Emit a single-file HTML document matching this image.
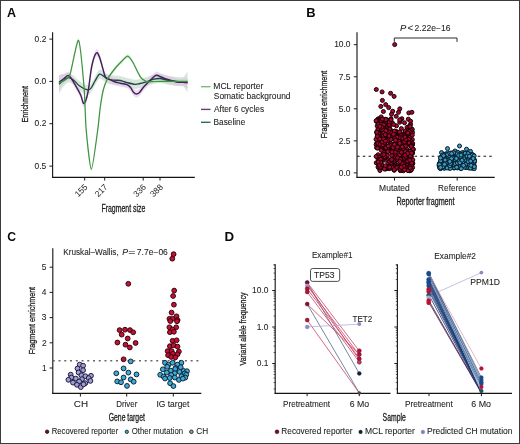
<!DOCTYPE html>
<html><head><meta charset="utf-8"><style>
html,body{margin:0;padding:0;background:#fff;}
svg{display:block;font-family:"Liberation Sans", sans-serif;filter:blur(0.25px);}
</style></head><body>
<svg width="520" height="444" viewBox="0 0 520 444">
<rect width="520" height="444" fill="#fff"/>
<text x="6.99" y="17.30" font-size="12.6" font-weight="bold" fill="#0a0a0a" textLength="9.05" lengthAdjust="spacingAndGlyphs" >A</text>
<text x="306.26" y="17.40" font-size="12.6" font-weight="bold" fill="#0a0a0a" textLength="9.35" lengthAdjust="spacingAndGlyphs" >B</text>
<text x="7.21" y="241.00" font-size="12.6" font-weight="bold" fill="#0a0a0a" textLength="8.82" lengthAdjust="spacingAndGlyphs" >C</text>
<text x="224.53" y="240.90" font-size="12.6" font-weight="bold" fill="#0a0a0a" textLength="9.63" lengthAdjust="spacingAndGlyphs" >D</text>
<line x1="52.60" y1="32.30" x2="52.60" y2="177.90" stroke="#1a1a1a" stroke-width="1.15" />
<line x1="52.05" y1="177.35" x2="194.80" y2="177.35" stroke="#141414" stroke-width="1.3" />
<line x1="49.40" y1="39.10" x2="52.60" y2="39.10" stroke="#1a1a1a" stroke-width="1.0" />
<text x="34.64" y="41.85" font-size="8.2" fill="#222222" textLength="11.68" lengthAdjust="spacingAndGlyphs" stroke="#222222" stroke-width="0.07">0.2</text>
<line x1="49.40" y1="81.40" x2="52.60" y2="81.40" stroke="#1a1a1a" stroke-width="1.0" />
<text x="34.51" y="84.15" font-size="8.2" fill="#222222" textLength="11.68" lengthAdjust="spacingAndGlyphs" stroke="#222222" stroke-width="0.07">0.0</text>
<line x1="49.40" y1="123.70" x2="52.60" y2="123.70" stroke="#1a1a1a" stroke-width="1.0" />
<text x="34.64" y="126.45" font-size="8.2" fill="#222222" textLength="11.68" lengthAdjust="spacingAndGlyphs" stroke="#222222" stroke-width="0.07">0.2</text>
<line x1="49.40" y1="166.10" x2="52.60" y2="166.10" stroke="#1a1a1a" stroke-width="1.0" />
<text x="34.55" y="168.85" font-size="8.2" fill="#222222" textLength="11.68" lengthAdjust="spacingAndGlyphs" stroke="#222222" stroke-width="0.07">0.5</text>
<line x1="84.70" y1="177.35" x2="84.70" y2="180.55" stroke="#1a1a1a" stroke-width="1.0" />
<text x="88.20" y="187.55" font-size="8.5" text-anchor="end" fill="#222222" transform="rotate(-45 88.20 187.55)">155</text>
<line x1="104.70" y1="177.35" x2="104.70" y2="180.55" stroke="#1a1a1a" stroke-width="1.0" />
<text x="108.20" y="187.55" font-size="8.5" text-anchor="end" fill="#222222" transform="rotate(-45 108.20 187.55)">217</text>
<line x1="143.20" y1="177.35" x2="143.20" y2="180.55" stroke="#1a1a1a" stroke-width="1.0" />
<text x="146.70" y="187.55" font-size="8.5" text-anchor="end" fill="#222222" transform="rotate(-45 146.70 187.55)">336</text>
<line x1="160.00" y1="177.35" x2="160.00" y2="180.55" stroke="#1a1a1a" stroke-width="1.0" />
<text x="163.50" y="187.55" font-size="8.5" text-anchor="end" fill="#222222" transform="rotate(-45 163.50 187.55)">388</text>
<text x="101.45" y="211.50" font-size="10.0" fill="#222222" textLength="43.87" lengthAdjust="spacingAndGlyphs" stroke="#1e1e1e" stroke-width="0.3">Fragment size</text>
<text x="28.20" y="122.58" font-size="9.8" fill="#222222" textLength="36.53" lengthAdjust="spacingAndGlyphs" transform="rotate(-90 28.20 122.58)" stroke="#1e1e1e" stroke-width="0.3">Enrichment</text>
<path d="M59.00,74.80 C59.67,74.65 61.42,74.20 63.00,73.90 C64.58,73.60 66.67,72.67 68.50,73.00 C70.33,73.33 72.20,74.55 74.00,75.90 C75.80,77.25 77.17,79.57 79.30,81.10 C81.43,82.63 84.88,84.65 86.80,85.10 C88.72,85.55 89.43,85.25 90.80,83.80 C92.17,82.35 93.53,78.77 95.00,76.40 C96.47,74.03 98.10,70.35 99.60,69.60 C101.10,68.85 102.58,71.07 104.00,71.90 C105.42,72.73 106.43,73.98 108.10,74.60 C109.77,75.22 111.97,75.38 114.00,75.60 C116.03,75.82 118.13,75.50 120.30,75.90 C122.47,76.30 124.53,77.37 127.00,78.00 C129.47,78.63 132.93,79.55 135.10,79.70 C137.27,79.85 138.18,79.30 140.00,78.90 C141.82,78.50 143.67,78.02 146.00,77.30 C148.33,76.58 151.67,75.17 154.00,74.60 C156.33,74.03 157.83,73.77 160.00,73.90 C162.17,74.03 164.25,74.90 167.00,75.40 C169.75,75.90 173.83,76.62 176.50,76.90 C179.17,77.18 181.50,77.55 183.00,77.10 C184.50,76.65 184.73,75.10 185.50,74.20 C186.27,73.30 187.25,72.10 187.60,71.68 L187.60,91.92 C187.25,91.50 186.27,90.34 185.50,89.40 C184.73,88.46 184.50,86.85 183.00,86.30 C181.50,85.75 179.17,86.38 176.50,86.10 C173.83,85.82 169.75,85.10 167.00,84.60 C164.25,84.10 162.17,83.23 160.00,83.10 C157.83,82.97 156.33,83.23 154.00,83.80 C151.67,84.37 148.33,85.78 146.00,86.50 C143.67,87.22 141.82,87.70 140.00,88.10 C138.18,88.50 137.27,89.05 135.10,88.90 C132.93,88.75 129.47,87.83 127.00,87.20 C124.53,86.57 122.47,85.50 120.30,85.10 C118.13,84.70 116.03,85.02 114.00,84.80 C111.97,84.58 109.77,84.42 108.10,83.80 C106.43,83.18 105.42,81.93 104.00,81.10 C102.58,80.27 101.10,78.05 99.60,78.80 C98.10,79.55 96.47,83.23 95.00,85.60 C93.53,87.97 92.17,91.55 90.80,93.00 C89.43,94.45 88.72,94.75 86.80,94.30 C84.88,93.85 81.43,91.83 79.30,90.30 C77.17,88.77 75.80,86.45 74.00,85.10 C72.20,83.75 70.33,81.83 68.50,82.20 C66.67,82.57 64.58,85.37 63.00,87.30 C61.42,89.23 59.67,92.72 59.00,93.80 Z" fill="#bccfc2" fill-opacity="0.55" stroke="none"/>
<path d="M59.00,75.20 C59.83,74.98 62.30,74.40 64.00,73.90 C65.70,73.40 67.20,70.72 69.20,72.20 C71.20,73.68 74.08,79.60 76.00,82.80 C77.92,86.00 79.37,88.53 80.70,91.40 C82.03,94.27 82.78,100.50 84.00,100.00 C85.22,99.50 86.70,94.67 88.00,88.40 C89.30,82.13 90.42,68.90 91.80,62.40 C93.18,55.90 94.97,50.73 96.30,49.40 C97.63,48.07 98.35,50.57 99.80,54.40 C101.25,58.23 103.62,68.98 105.00,72.40 C106.38,75.82 106.60,73.98 108.10,74.90 C109.60,75.82 111.97,77.12 114.00,77.90 C116.03,78.68 118.13,79.08 120.30,79.60 C122.47,80.12 125.30,80.28 127.00,81.00 C128.70,81.72 129.42,82.63 130.50,83.90 C131.58,85.17 132.50,87.52 133.50,88.60 C134.50,89.68 135.50,90.35 136.50,90.40 C137.50,90.45 138.50,89.82 139.50,88.90 C140.50,87.98 141.42,86.22 142.50,84.90 C143.58,83.58 144.58,82.50 146.00,81.00 C147.42,79.50 149.30,77.45 151.00,75.90 C152.70,74.35 154.53,72.12 156.20,71.70 C157.87,71.28 159.20,72.73 161.00,73.40 C162.80,74.07 164.42,74.87 167.00,75.70 C169.58,76.53 173.83,77.88 176.50,78.40 C179.17,78.92 181.50,78.87 183.00,78.80 C184.50,78.73 184.73,78.26 185.50,78.00 C186.27,77.74 187.25,77.38 187.60,77.26 L187.60,88.14 C187.25,87.98 186.27,87.56 185.50,87.20 C184.73,86.84 184.50,86.27 183.00,86.00 C181.50,85.73 179.17,86.12 176.50,85.60 C173.83,85.08 169.58,83.73 167.00,82.90 C164.42,82.07 162.80,81.27 161.00,80.60 C159.20,79.93 157.87,78.48 156.20,78.90 C154.53,79.32 152.70,81.55 151.00,83.10 C149.30,84.65 147.42,86.70 146.00,88.20 C144.58,89.70 143.58,90.78 142.50,92.10 C141.42,93.42 140.50,95.18 139.50,96.10 C138.50,97.02 137.50,97.65 136.50,97.60 C135.50,97.55 134.50,96.88 133.50,95.80 C132.50,94.72 131.58,92.37 130.50,91.10 C129.42,89.83 128.70,88.92 127.00,88.20 C125.30,87.48 122.47,87.32 120.30,86.80 C118.13,86.28 116.03,85.88 114.00,85.10 C111.97,84.32 109.60,83.02 108.10,82.10 C106.60,81.18 106.38,83.02 105.00,79.60 C103.62,76.18 101.25,65.43 99.80,61.60 C98.35,57.77 97.63,55.27 96.30,56.60 C94.97,57.93 93.18,63.10 91.80,69.60 C90.42,76.10 89.30,89.33 88.00,95.60 C86.70,101.87 85.22,106.70 84.00,107.20 C82.78,107.70 82.03,101.47 80.70,98.60 C79.37,95.73 77.92,93.20 76.00,90.00 C74.08,86.80 71.20,80.55 69.20,79.40 C67.20,78.25 65.70,81.43 64.00,83.10 C62.30,84.77 59.83,88.35 59.00,89.40 Z" fill="#d8bce2" fill-opacity="0.5" stroke="none"/>
<path d="M59.00,81.30 C59.83,80.88 62.18,80.15 64.00,78.80 C65.82,77.45 67.47,79.88 69.90,73.20 C72.33,66.52 76.25,36.78 78.60,38.70 C80.95,40.62 82.73,69.77 84.00,84.70 C85.27,99.63 84.97,114.50 86.20,128.30 C87.43,142.10 89.48,167.50 91.40,167.50 C93.32,167.50 96.22,138.67 97.70,128.30 C99.18,117.93 99.35,112.05 100.30,105.30 C101.25,98.55 102.25,92.38 103.40,87.80 C104.55,83.22 105.27,81.30 107.20,77.80 C109.13,74.30 112.78,69.63 115.00,66.80 C117.22,63.97 118.38,62.85 120.50,60.80 C122.62,58.75 125.62,54.50 127.70,54.50 C129.78,54.50 130.87,57.30 133.00,60.80 C135.13,64.30 138.23,72.32 140.50,75.50 C142.77,78.68 144.18,79.18 146.60,79.90 C149.02,80.62 151.10,79.83 155.00,79.80 C158.90,79.77 164.57,79.72 170.00,79.70 C175.43,79.68 184.67,79.70 187.60,79.70 L187.60,83.10 C184.67,83.10 175.43,83.08 170.00,83.10 C164.57,83.12 158.90,83.17 155.00,83.20 C151.10,83.23 149.02,84.02 146.60,83.30 C144.18,82.58 142.77,82.08 140.50,78.90 C138.23,75.72 135.13,67.70 133.00,64.20 C130.87,60.70 129.78,57.90 127.70,57.90 C125.62,57.90 122.62,62.15 120.50,64.20 C118.38,66.25 117.22,67.37 115.00,70.20 C112.78,73.03 109.13,77.70 107.20,81.20 C105.27,84.70 104.55,86.62 103.40,91.20 C102.25,95.78 101.25,101.95 100.30,108.70 C99.35,115.45 99.18,121.33 97.70,131.70 C96.22,142.07 93.32,170.90 91.40,170.90 C89.48,170.90 87.43,145.50 86.20,131.70 C84.97,117.90 85.27,103.03 84.00,88.10 C82.73,73.17 80.95,44.02 78.60,42.10 C76.25,40.18 72.33,69.92 69.90,76.60 C67.47,83.28 65.82,80.85 64.00,82.20 C62.18,83.55 59.83,84.28 59.00,84.70 Z" fill="#b4e6ac" fill-opacity="0.5" stroke="none"/>
<path d="M59.00,84.30 C59.67,83.68 61.42,81.72 63.00,80.60 C64.58,79.48 66.67,77.62 68.50,77.60 C70.33,77.58 72.20,79.15 74.00,80.50 C75.80,81.85 77.17,84.17 79.30,85.70 C81.43,87.23 84.88,89.25 86.80,89.70 C88.72,90.15 89.43,89.85 90.80,88.40 C92.17,86.95 93.53,83.37 95.00,81.00 C96.47,78.63 98.10,74.95 99.60,74.20 C101.10,73.45 102.58,75.67 104.00,76.50 C105.42,77.33 106.43,78.58 108.10,79.20 C109.77,79.82 111.97,79.98 114.00,80.20 C116.03,80.42 118.13,80.10 120.30,80.50 C122.47,80.90 124.53,81.97 127.00,82.60 C129.47,83.23 132.93,84.15 135.10,84.30 C137.27,84.45 138.18,83.90 140.00,83.50 C141.82,83.10 143.67,82.62 146.00,81.90 C148.33,81.18 151.67,79.77 154.00,79.20 C156.33,78.63 157.83,78.37 160.00,78.50 C162.17,78.63 164.25,79.50 167.00,80.00 C169.75,80.50 173.83,81.22 176.50,81.50 C179.17,81.78 181.50,81.65 183.00,81.70 C184.50,81.75 184.73,81.78 185.50,81.80 C186.27,81.82 187.25,81.80 187.60,81.80" fill="none" stroke="#1b4840" stroke-width="1.35"/>
<path d="M59.00,82.30 C59.83,81.67 62.30,79.58 64.00,78.50 C65.70,77.42 67.20,74.48 69.20,75.80 C71.20,77.12 74.08,83.20 76.00,86.40 C77.92,89.60 79.37,92.13 80.70,95.00 C82.03,97.87 82.78,104.10 84.00,103.60 C85.22,103.10 86.70,98.27 88.00,92.00 C89.30,85.73 90.42,72.50 91.80,66.00 C93.18,59.50 94.97,54.33 96.30,53.00 C97.63,51.67 98.35,54.17 99.80,58.00 C101.25,61.83 103.62,72.58 105.00,76.00 C106.38,79.42 106.60,77.58 108.10,78.50 C109.60,79.42 111.97,80.72 114.00,81.50 C116.03,82.28 118.13,82.68 120.30,83.20 C122.47,83.72 125.30,83.88 127.00,84.60 C128.70,85.32 129.42,86.23 130.50,87.50 C131.58,88.77 132.50,91.12 133.50,92.20 C134.50,93.28 135.50,93.95 136.50,94.00 C137.50,94.05 138.50,93.42 139.50,92.50 C140.50,91.58 141.42,89.82 142.50,88.50 C143.58,87.18 144.58,86.10 146.00,84.60 C147.42,83.10 149.30,81.05 151.00,79.50 C152.70,77.95 154.53,75.72 156.20,75.30 C157.87,74.88 159.20,76.33 161.00,77.00 C162.80,77.67 164.42,78.47 167.00,79.30 C169.58,80.13 173.83,81.48 176.50,82.00 C179.17,82.52 181.50,82.30 183.00,82.40 C184.50,82.50 184.73,82.55 185.50,82.60 C186.27,82.65 187.25,82.68 187.60,82.70" fill="none" stroke="#46205a" stroke-width="1.45"/>
<path d="M59.00,83.00 C59.58,82.71 62.73,81.44 64.00,80.50 C65.27,79.56 68.20,79.58 69.90,74.90 C71.60,70.22 76.95,39.06 78.60,40.40 C80.24,41.74 83.11,75.95 84.00,86.40 C84.89,96.85 85.34,120.34 86.20,130.00 C87.06,139.66 90.06,169.20 91.40,169.20 C92.74,169.20 96.66,137.26 97.70,130.00 C98.74,122.74 99.63,111.72 100.30,107.00 C100.97,102.28 102.59,92.71 103.40,89.50 C104.21,86.29 105.85,81.95 107.20,79.50 C108.55,77.05 113.45,70.48 115.00,68.50 C116.55,66.52 119.02,63.94 120.50,62.50 C121.98,61.06 126.24,56.20 127.70,56.20 C129.16,56.20 131.51,60.05 133.00,62.50 C134.49,64.95 138.91,74.97 140.50,77.20 C142.09,79.43 144.91,81.10 146.60,81.60 C148.29,82.10 152.27,81.52 155.00,81.50 C157.73,81.48 166.20,81.41 170.00,81.40 C173.80,81.39 185.55,81.40 187.60,81.40" fill="none" stroke="#3f9442" stroke-width="1.25" stroke-linejoin="round"/>
<line x1="201.00" y1="86.70" x2="210.50" y2="86.70" stroke="#74c36f" stroke-width="1.4" />
<line x1="201.00" y1="109.40" x2="210.50" y2="109.40" stroke="#6a3f7c" stroke-width="1.4" />
<line x1="201.00" y1="122.30" x2="210.50" y2="122.30" stroke="#2d6b68" stroke-width="1.4" />
<text x="213.32" y="89.20" font-size="8.2" fill="#222222" textLength="50.04" lengthAdjust="spacingAndGlyphs" stroke="#222222" stroke-width="0.07">MCL reporter</text>
<text x="213.82" y="99.40" font-size="8.2" fill="#222222" textLength="76.74" lengthAdjust="spacingAndGlyphs" stroke="#222222" stroke-width="0.07">Somatic background</text>
<text x="214.00" y="112.10" font-size="8.2" fill="#222222" textLength="50.11" lengthAdjust="spacingAndGlyphs" stroke="#222222" stroke-width="0.07">After 6 cycles</text>
<text x="213.54" y="125.10" font-size="8.2" fill="#222222" textLength="31.74" lengthAdjust="spacingAndGlyphs" stroke="#222222" stroke-width="0.07">Baseline</text>
<line x1="357.00" y1="32.20" x2="357.00" y2="177.90" stroke="#1a1a1a" stroke-width="1.15" />
<line x1="356.45" y1="177.35" x2="494.70" y2="177.35" stroke="#141414" stroke-width="1.3" />
<line x1="353.80" y1="44.70" x2="357.00" y2="44.70" stroke="#1a1a1a" stroke-width="1.0" />
<text x="334.15" y="47.45" font-size="8.2" fill="#222222" textLength="16.36" lengthAdjust="spacingAndGlyphs" stroke="#222222" stroke-width="0.07">10.0</text>
<line x1="353.80" y1="76.75" x2="357.00" y2="76.75" stroke="#1a1a1a" stroke-width="1.0" />
<text x="338.85" y="79.50" font-size="8.2" fill="#222222" textLength="11.68" lengthAdjust="spacingAndGlyphs" stroke="#222222" stroke-width="0.07">7.5</text>
<line x1="353.80" y1="108.80" x2="357.00" y2="108.80" stroke="#1a1a1a" stroke-width="1.0" />
<text x="338.81" y="111.55" font-size="8.2" fill="#222222" textLength="11.68" lengthAdjust="spacingAndGlyphs" stroke="#222222" stroke-width="0.07">5.0</text>
<line x1="353.80" y1="140.85" x2="357.00" y2="140.85" stroke="#1a1a1a" stroke-width="1.0" />
<text x="338.85" y="143.60" font-size="8.2" fill="#222222" textLength="11.68" lengthAdjust="spacingAndGlyphs" stroke="#222222" stroke-width="0.07">2.5</text>
<line x1="353.80" y1="172.90" x2="357.00" y2="172.90" stroke="#1a1a1a" stroke-width="1.0" />
<text x="338.81" y="175.65" font-size="8.2" fill="#222222" textLength="11.68" lengthAdjust="spacingAndGlyphs" stroke="#222222" stroke-width="0.07">0.0</text>
<line x1="394.50" y1="177.35" x2="394.50" y2="180.55" stroke="#1a1a1a" stroke-width="1.0" />
<text x="379.12" y="190.90" font-size="8.2" fill="#222222" textLength="30.66" lengthAdjust="spacingAndGlyphs" stroke="#222222" stroke-width="0.07">Mutated</text>
<line x1="457.20" y1="177.35" x2="457.20" y2="180.55" stroke="#1a1a1a" stroke-width="1.0" />
<text x="438.14" y="190.90" font-size="8.2" fill="#222222" textLength="37.92" lengthAdjust="spacingAndGlyphs" stroke="#222222" stroke-width="0.07">Reference</text>
<text x="396.43" y="205.40" font-size="10.0" fill="#222222" textLength="58.14" lengthAdjust="spacingAndGlyphs" stroke="#1e1e1e" stroke-width="0.3">Reporter fragment</text>
<text x="327.20" y="138.27" font-size="9.8" fill="#222222" textLength="67.53" lengthAdjust="spacingAndGlyphs" transform="rotate(-90 327.20 138.27)" stroke="#1e1e1e" stroke-width="0.3">Fragment enrichment</text>
<path d="M394.3,41.9 V38.0 H457.0 V41.9" fill="none" stroke="#2a2a2a" stroke-width="1.0"/>
<text x="400.12" y="31.20" font-size="8.2" font-style="italic" fill="#222222" textLength="6.25" lengthAdjust="spacingAndGlyphs" stroke="#222222" stroke-width="0.07">P</text>
<text x="407.63" y="31.20" font-size="8.2" fill="#222222" textLength="5.54" lengthAdjust="spacingAndGlyphs" stroke="#222222" stroke-width="0.07">&lt;</text>
<text x="414.57" y="31.20" font-size="8.2" fill="#222222" textLength="35.96" lengthAdjust="spacingAndGlyphs" stroke="#222222" stroke-width="0.07">2.22e&#8722;16</text>
<line x1="357.05" y1="156.20" x2="493.00" y2="156.20" stroke="#111" stroke-width="1.05" stroke-dasharray="2.5 3.248"/>
<circle cx="376.30" cy="89.50" r="2.0" fill="#a80a2f" stroke="#1a0007" stroke-width="1.0"/>
<circle cx="382.10" cy="91.90" r="2.0" fill="#a80a2f" stroke="#1a0007" stroke-width="1.0"/>
<circle cx="390.60" cy="93.30" r="2.0" fill="#a80a2f" stroke="#1a0007" stroke-width="1.0"/>
<circle cx="394.10" cy="96.40" r="2.0" fill="#a80a2f" stroke="#1a0007" stroke-width="1.0"/>
<circle cx="382.40" cy="100.40" r="2.0" fill="#a80a2f" stroke="#1a0007" stroke-width="1.0"/>
<circle cx="380.80" cy="106.40" r="2.0" fill="#a80a2f" stroke="#1a0007" stroke-width="1.0"/>
<circle cx="385.70" cy="104.60" r="2.0" fill="#a80a2f" stroke="#1a0007" stroke-width="1.0"/>
<circle cx="388.70" cy="107.60" r="2.0" fill="#a80a2f" stroke="#1a0007" stroke-width="1.0"/>
<circle cx="383.40" cy="111.50" r="2.0" fill="#a80a2f" stroke="#1a0007" stroke-width="1.0"/>
<circle cx="392.70" cy="111.20" r="2.0" fill="#a80a2f" stroke="#1a0007" stroke-width="1.0"/>
<circle cx="399.80" cy="108.80" r="2.0" fill="#a80a2f" stroke="#1a0007" stroke-width="1.0"/>
<circle cx="398.50" cy="112.30" r="2.0" fill="#a80a2f" stroke="#1a0007" stroke-width="1.0"/>
<circle cx="408.80" cy="112.90" r="2.0" fill="#a80a2f" stroke="#1a0007" stroke-width="1.0"/>
<circle cx="411.90" cy="112.30" r="2.0" fill="#a80a2f" stroke="#1a0007" stroke-width="1.0"/>
<circle cx="391.50" cy="114.20" r="2.0" fill="#a80a2f" stroke="#1a0007" stroke-width="1.0"/>
<circle cx="381.20" cy="116.90" r="2.0" fill="#a80a2f" stroke="#1a0007" stroke-width="1.0"/>
<circle cx="391.00" cy="118.70" r="2.0" fill="#a80a2f" stroke="#1a0007" stroke-width="1.0"/>
<circle cx="396.20" cy="116.30" r="2.0" fill="#a80a2f" stroke="#1a0007" stroke-width="1.0"/>
<circle cx="401.90" cy="118.70" r="2.0" fill="#a80a2f" stroke="#1a0007" stroke-width="1.0"/>
<circle cx="408.30" cy="119.20" r="2.0" fill="#a80a2f" stroke="#1a0007" stroke-width="1.0"/>
<circle cx="410.60" cy="121.20" r="2.0" fill="#a80a2f" stroke="#1a0007" stroke-width="1.0"/>
<circle cx="410.60" cy="124.40" r="2.0" fill="#a80a2f" stroke="#1a0007" stroke-width="1.0"/>
<circle cx="376.50" cy="121.50" r="2.0" fill="#a80a2f" stroke="#1a0007" stroke-width="1.0"/>
<circle cx="386.50" cy="120.50" r="2.0" fill="#a80a2f" stroke="#1a0007" stroke-width="1.0"/>
<circle cx="404.50" cy="122.80" r="2.0" fill="#a80a2f" stroke="#1a0007" stroke-width="1.0"/>
<circle cx="378.80" cy="118.80" r="2.0" fill="#a80a2f" stroke="#1a0007" stroke-width="1.0"/>
<circle cx="388.11" cy="126.83" r="2.0" fill="#a80a2f" stroke="#1a0007" stroke-width="1.0"/>
<circle cx="378.71" cy="146.81" r="2.0" fill="#a80a2f" stroke="#1a0007" stroke-width="1.0"/>
<circle cx="378.17" cy="145.34" r="2.0" fill="#a80a2f" stroke="#1a0007" stroke-width="1.0"/>
<circle cx="392.22" cy="122.63" r="2.0" fill="#a80a2f" stroke="#1a0007" stroke-width="1.0"/>
<circle cx="391.88" cy="161.91" r="2.0" fill="#a80a2f" stroke="#1a0007" stroke-width="1.0"/>
<circle cx="384.35" cy="151.56" r="2.0" fill="#a80a2f" stroke="#1a0007" stroke-width="1.0"/>
<circle cx="397.58" cy="139.59" r="2.0" fill="#a80a2f" stroke="#1a0007" stroke-width="1.0"/>
<circle cx="377.74" cy="163.55" r="2.0" fill="#a80a2f" stroke="#1a0007" stroke-width="1.0"/>
<circle cx="381.40" cy="125.11" r="2.0" fill="#a80a2f" stroke="#1a0007" stroke-width="1.0"/>
<circle cx="399.90" cy="138.33" r="2.0" fill="#a80a2f" stroke="#1a0007" stroke-width="1.0"/>
<circle cx="378.35" cy="122.09" r="2.0" fill="#a80a2f" stroke="#1a0007" stroke-width="1.0"/>
<circle cx="401.45" cy="141.19" r="2.0" fill="#a80a2f" stroke="#1a0007" stroke-width="1.0"/>
<circle cx="397.90" cy="142.52" r="2.0" fill="#a80a2f" stroke="#1a0007" stroke-width="1.0"/>
<circle cx="405.71" cy="155.28" r="2.0" fill="#a80a2f" stroke="#1a0007" stroke-width="1.0"/>
<circle cx="397.48" cy="146.26" r="2.0" fill="#a80a2f" stroke="#1a0007" stroke-width="1.0"/>
<circle cx="403.28" cy="133.94" r="2.0" fill="#a80a2f" stroke="#1a0007" stroke-width="1.0"/>
<circle cx="380.42" cy="140.70" r="2.0" fill="#a80a2f" stroke="#1a0007" stroke-width="1.0"/>
<circle cx="381.68" cy="144.38" r="2.0" fill="#a80a2f" stroke="#1a0007" stroke-width="1.0"/>
<circle cx="400.99" cy="158.68" r="2.0" fill="#a80a2f" stroke="#1a0007" stroke-width="1.0"/>
<circle cx="408.74" cy="135.28" r="2.0" fill="#a80a2f" stroke="#1a0007" stroke-width="1.0"/>
<circle cx="398.23" cy="149.10" r="2.0" fill="#a80a2f" stroke="#1a0007" stroke-width="1.0"/>
<circle cx="407.41" cy="168.03" r="2.0" fill="#a80a2f" stroke="#1a0007" stroke-width="1.0"/>
<circle cx="400.20" cy="170.54" r="2.0" fill="#a80a2f" stroke="#1a0007" stroke-width="1.0"/>
<circle cx="386.64" cy="139.02" r="2.0" fill="#a80a2f" stroke="#1a0007" stroke-width="1.0"/>
<circle cx="376.84" cy="142.96" r="2.0" fill="#a80a2f" stroke="#1a0007" stroke-width="1.0"/>
<circle cx="380.84" cy="131.85" r="2.0" fill="#a80a2f" stroke="#1a0007" stroke-width="1.0"/>
<circle cx="396.55" cy="164.85" r="2.0" fill="#a80a2f" stroke="#1a0007" stroke-width="1.0"/>
<circle cx="408.31" cy="133.45" r="2.0" fill="#a80a2f" stroke="#1a0007" stroke-width="1.0"/>
<circle cx="389.42" cy="164.89" r="2.0" fill="#a80a2f" stroke="#1a0007" stroke-width="1.0"/>
<circle cx="381.64" cy="128.15" r="2.0" fill="#a80a2f" stroke="#1a0007" stroke-width="1.0"/>
<circle cx="384.73" cy="144.17" r="2.0" fill="#a80a2f" stroke="#1a0007" stroke-width="1.0"/>
<circle cx="385.83" cy="119.21" r="2.0" fill="#a80a2f" stroke="#1a0007" stroke-width="1.0"/>
<circle cx="389.81" cy="148.39" r="2.0" fill="#a80a2f" stroke="#1a0007" stroke-width="1.0"/>
<circle cx="401.82" cy="145.75" r="2.0" fill="#a80a2f" stroke="#1a0007" stroke-width="1.0"/>
<circle cx="405.17" cy="164.39" r="2.0" fill="#a80a2f" stroke="#1a0007" stroke-width="1.0"/>
<circle cx="390.67" cy="139.71" r="2.0" fill="#a80a2f" stroke="#1a0007" stroke-width="1.0"/>
<circle cx="399.72" cy="122.23" r="2.0" fill="#a80a2f" stroke="#1a0007" stroke-width="1.0"/>
<circle cx="383.81" cy="127.42" r="2.0" fill="#a80a2f" stroke="#1a0007" stroke-width="1.0"/>
<circle cx="377.97" cy="119.01" r="2.0" fill="#a80a2f" stroke="#1a0007" stroke-width="1.0"/>
<circle cx="379.79" cy="137.87" r="2.0" fill="#a80a2f" stroke="#1a0007" stroke-width="1.0"/>
<circle cx="408.70" cy="150.87" r="2.0" fill="#a80a2f" stroke="#1a0007" stroke-width="1.0"/>
<circle cx="385.43" cy="137.03" r="2.0" fill="#a80a2f" stroke="#1a0007" stroke-width="1.0"/>
<circle cx="380.59" cy="163.06" r="2.0" fill="#a80a2f" stroke="#1a0007" stroke-width="1.0"/>
<circle cx="393.43" cy="144.11" r="2.0" fill="#a80a2f" stroke="#1a0007" stroke-width="1.0"/>
<circle cx="379.82" cy="136.78" r="2.0" fill="#a80a2f" stroke="#1a0007" stroke-width="1.0"/>
<circle cx="407.00" cy="127.38" r="2.0" fill="#a80a2f" stroke="#1a0007" stroke-width="1.0"/>
<circle cx="411.57" cy="146.42" r="2.0" fill="#a80a2f" stroke="#1a0007" stroke-width="1.0"/>
<circle cx="412.60" cy="163.81" r="2.0" fill="#a80a2f" stroke="#1a0007" stroke-width="1.0"/>
<circle cx="385.77" cy="138.03" r="2.0" fill="#a80a2f" stroke="#1a0007" stroke-width="1.0"/>
<circle cx="404.87" cy="146.64" r="2.0" fill="#a80a2f" stroke="#1a0007" stroke-width="1.0"/>
<circle cx="388.33" cy="130.58" r="2.0" fill="#a80a2f" stroke="#1a0007" stroke-width="1.0"/>
<circle cx="412.84" cy="163.25" r="2.0" fill="#a80a2f" stroke="#1a0007" stroke-width="1.0"/>
<circle cx="406.61" cy="157.40" r="2.0" fill="#a80a2f" stroke="#1a0007" stroke-width="1.0"/>
<circle cx="395.36" cy="137.45" r="2.0" fill="#a80a2f" stroke="#1a0007" stroke-width="1.0"/>
<circle cx="377.04" cy="133.50" r="2.0" fill="#a80a2f" stroke="#1a0007" stroke-width="1.0"/>
<circle cx="401.90" cy="168.64" r="2.0" fill="#a80a2f" stroke="#1a0007" stroke-width="1.0"/>
<circle cx="411.04" cy="170.28" r="2.0" fill="#a80a2f" stroke="#1a0007" stroke-width="1.0"/>
<circle cx="389.64" cy="130.44" r="2.0" fill="#a80a2f" stroke="#1a0007" stroke-width="1.0"/>
<circle cx="383.36" cy="129.61" r="2.0" fill="#a80a2f" stroke="#1a0007" stroke-width="1.0"/>
<circle cx="409.67" cy="162.62" r="2.0" fill="#a80a2f" stroke="#1a0007" stroke-width="1.0"/>
<circle cx="400.42" cy="160.50" r="2.0" fill="#a80a2f" stroke="#1a0007" stroke-width="1.0"/>
<circle cx="400.71" cy="166.22" r="2.0" fill="#a80a2f" stroke="#1a0007" stroke-width="1.0"/>
<circle cx="404.06" cy="143.81" r="2.0" fill="#a80a2f" stroke="#1a0007" stroke-width="1.0"/>
<circle cx="405.51" cy="136.26" r="2.0" fill="#a80a2f" stroke="#1a0007" stroke-width="1.0"/>
<circle cx="412.34" cy="139.54" r="2.0" fill="#a80a2f" stroke="#1a0007" stroke-width="1.0"/>
<circle cx="411.41" cy="156.62" r="2.0" fill="#a80a2f" stroke="#1a0007" stroke-width="1.0"/>
<circle cx="412.66" cy="153.11" r="2.0" fill="#a80a2f" stroke="#1a0007" stroke-width="1.0"/>
<circle cx="396.52" cy="125.80" r="2.0" fill="#a80a2f" stroke="#1a0007" stroke-width="1.0"/>
<circle cx="412.31" cy="152.72" r="2.0" fill="#a80a2f" stroke="#1a0007" stroke-width="1.0"/>
<circle cx="410.92" cy="141.51" r="2.0" fill="#a80a2f" stroke="#1a0007" stroke-width="1.0"/>
<circle cx="406.90" cy="129.95" r="2.0" fill="#a80a2f" stroke="#1a0007" stroke-width="1.0"/>
<circle cx="386.96" cy="131.48" r="2.0" fill="#a80a2f" stroke="#1a0007" stroke-width="1.0"/>
<circle cx="385.70" cy="140.75" r="2.0" fill="#a80a2f" stroke="#1a0007" stroke-width="1.0"/>
<circle cx="410.03" cy="137.36" r="2.0" fill="#a80a2f" stroke="#1a0007" stroke-width="1.0"/>
<circle cx="397.82" cy="165.93" r="2.0" fill="#a80a2f" stroke="#1a0007" stroke-width="1.0"/>
<circle cx="410.32" cy="145.04" r="2.0" fill="#a80a2f" stroke="#1a0007" stroke-width="1.0"/>
<circle cx="382.45" cy="143.57" r="2.0" fill="#a80a2f" stroke="#1a0007" stroke-width="1.0"/>
<circle cx="396.81" cy="135.92" r="2.0" fill="#a80a2f" stroke="#1a0007" stroke-width="1.0"/>
<circle cx="396.77" cy="159.70" r="2.0" fill="#a80a2f" stroke="#1a0007" stroke-width="1.0"/>
<circle cx="396.96" cy="131.90" r="2.0" fill="#a80a2f" stroke="#1a0007" stroke-width="1.0"/>
<circle cx="404.88" cy="145.35" r="2.0" fill="#a80a2f" stroke="#1a0007" stroke-width="1.0"/>
<circle cx="404.42" cy="166.36" r="2.0" fill="#a80a2f" stroke="#1a0007" stroke-width="1.0"/>
<circle cx="398.91" cy="145.24" r="2.0" fill="#a80a2f" stroke="#1a0007" stroke-width="1.0"/>
<circle cx="401.91" cy="142.48" r="2.0" fill="#a80a2f" stroke="#1a0007" stroke-width="1.0"/>
<circle cx="393.88" cy="167.86" r="2.0" fill="#a80a2f" stroke="#1a0007" stroke-width="1.0"/>
<circle cx="408.78" cy="167.90" r="2.0" fill="#a80a2f" stroke="#1a0007" stroke-width="1.0"/>
<circle cx="396.93" cy="167.96" r="2.0" fill="#a80a2f" stroke="#1a0007" stroke-width="1.0"/>
<circle cx="381.13" cy="125.31" r="2.0" fill="#a80a2f" stroke="#1a0007" stroke-width="1.0"/>
<circle cx="378.71" cy="131.49" r="2.0" fill="#a80a2f" stroke="#1a0007" stroke-width="1.0"/>
<circle cx="401.04" cy="159.69" r="2.0" fill="#a80a2f" stroke="#1a0007" stroke-width="1.0"/>
<circle cx="381.78" cy="156.17" r="2.0" fill="#a80a2f" stroke="#1a0007" stroke-width="1.0"/>
<circle cx="381.35" cy="164.82" r="2.0" fill="#a80a2f" stroke="#1a0007" stroke-width="1.0"/>
<circle cx="384.21" cy="168.43" r="2.0" fill="#a80a2f" stroke="#1a0007" stroke-width="1.0"/>
<circle cx="394.22" cy="170.37" r="2.0" fill="#a80a2f" stroke="#1a0007" stroke-width="1.0"/>
<circle cx="382.04" cy="141.40" r="2.0" fill="#a80a2f" stroke="#1a0007" stroke-width="1.0"/>
<circle cx="388.68" cy="129.16" r="2.0" fill="#a80a2f" stroke="#1a0007" stroke-width="1.0"/>
<circle cx="399.33" cy="145.59" r="2.0" fill="#a80a2f" stroke="#1a0007" stroke-width="1.0"/>
<circle cx="412.84" cy="159.92" r="2.0" fill="#a80a2f" stroke="#1a0007" stroke-width="1.0"/>
<circle cx="379.92" cy="132.78" r="2.0" fill="#a80a2f" stroke="#1a0007" stroke-width="1.0"/>
<circle cx="405.13" cy="133.04" r="2.0" fill="#a80a2f" stroke="#1a0007" stroke-width="1.0"/>
<circle cx="391.79" cy="166.30" r="2.0" fill="#a80a2f" stroke="#1a0007" stroke-width="1.0"/>
<circle cx="397.34" cy="155.35" r="2.0" fill="#a80a2f" stroke="#1a0007" stroke-width="1.0"/>
<circle cx="378.15" cy="154.72" r="2.0" fill="#a80a2f" stroke="#1a0007" stroke-width="1.0"/>
<circle cx="378.71" cy="167.70" r="2.0" fill="#a80a2f" stroke="#1a0007" stroke-width="1.0"/>
<circle cx="378.49" cy="163.78" r="2.0" fill="#a80a2f" stroke="#1a0007" stroke-width="1.0"/>
<circle cx="388.68" cy="147.70" r="2.0" fill="#a80a2f" stroke="#1a0007" stroke-width="1.0"/>
<circle cx="386.02" cy="125.71" r="2.0" fill="#a80a2f" stroke="#1a0007" stroke-width="1.0"/>
<circle cx="384.92" cy="124.68" r="2.0" fill="#a80a2f" stroke="#1a0007" stroke-width="1.0"/>
<circle cx="377.88" cy="129.47" r="2.0" fill="#a80a2f" stroke="#1a0007" stroke-width="1.0"/>
<circle cx="387.41" cy="158.42" r="2.0" fill="#a80a2f" stroke="#1a0007" stroke-width="1.0"/>
<circle cx="376.68" cy="132.00" r="2.0" fill="#a80a2f" stroke="#1a0007" stroke-width="1.0"/>
<circle cx="403.42" cy="147.60" r="2.0" fill="#a80a2f" stroke="#1a0007" stroke-width="1.0"/>
<circle cx="393.76" cy="167.51" r="2.0" fill="#a80a2f" stroke="#1a0007" stroke-width="1.0"/>
<circle cx="406.63" cy="141.43" r="2.0" fill="#a80a2f" stroke="#1a0007" stroke-width="1.0"/>
<circle cx="407.21" cy="139.40" r="2.0" fill="#a80a2f" stroke="#1a0007" stroke-width="1.0"/>
<circle cx="401.72" cy="169.99" r="2.0" fill="#a80a2f" stroke="#1a0007" stroke-width="1.0"/>
<circle cx="407.13" cy="155.68" r="2.0" fill="#a80a2f" stroke="#1a0007" stroke-width="1.0"/>
<circle cx="391.14" cy="137.04" r="2.0" fill="#a80a2f" stroke="#1a0007" stroke-width="1.0"/>
<circle cx="380.86" cy="122.67" r="2.0" fill="#a80a2f" stroke="#1a0007" stroke-width="1.0"/>
<circle cx="385.56" cy="127.47" r="2.0" fill="#a80a2f" stroke="#1a0007" stroke-width="1.0"/>
<circle cx="407.46" cy="164.18" r="2.0" fill="#a80a2f" stroke="#1a0007" stroke-width="1.0"/>
<circle cx="386.54" cy="131.57" r="2.0" fill="#a80a2f" stroke="#1a0007" stroke-width="1.0"/>
<circle cx="385.85" cy="168.92" r="2.0" fill="#a80a2f" stroke="#1a0007" stroke-width="1.0"/>
<circle cx="396.46" cy="131.69" r="2.0" fill="#a80a2f" stroke="#1a0007" stroke-width="1.0"/>
<circle cx="387.58" cy="137.51" r="2.0" fill="#a80a2f" stroke="#1a0007" stroke-width="1.0"/>
<circle cx="390.27" cy="143.63" r="2.0" fill="#a80a2f" stroke="#1a0007" stroke-width="1.0"/>
<circle cx="383.52" cy="145.20" r="2.0" fill="#a80a2f" stroke="#1a0007" stroke-width="1.0"/>
<circle cx="385.88" cy="123.66" r="2.0" fill="#a80a2f" stroke="#1a0007" stroke-width="1.0"/>
<circle cx="377.56" cy="120.17" r="2.0" fill="#a80a2f" stroke="#1a0007" stroke-width="1.0"/>
<circle cx="384.71" cy="149.39" r="2.0" fill="#a80a2f" stroke="#1a0007" stroke-width="1.0"/>
<circle cx="404.07" cy="153.13" r="2.0" fill="#a80a2f" stroke="#1a0007" stroke-width="1.0"/>
<circle cx="408.88" cy="139.22" r="2.0" fill="#a80a2f" stroke="#1a0007" stroke-width="1.0"/>
<circle cx="409.36" cy="151.56" r="2.0" fill="#a80a2f" stroke="#1a0007" stroke-width="1.0"/>
<circle cx="394.86" cy="162.33" r="2.0" fill="#a80a2f" stroke="#1a0007" stroke-width="1.0"/>
<circle cx="406.91" cy="149.31" r="2.0" fill="#a80a2f" stroke="#1a0007" stroke-width="1.0"/>
<circle cx="401.54" cy="154.98" r="2.0" fill="#a80a2f" stroke="#1a0007" stroke-width="1.0"/>
<circle cx="377.17" cy="125.91" r="2.0" fill="#a80a2f" stroke="#1a0007" stroke-width="1.0"/>
<circle cx="379.92" cy="162.38" r="2.0" fill="#a80a2f" stroke="#1a0007" stroke-width="1.0"/>
<circle cx="399.48" cy="151.50" r="2.0" fill="#a80a2f" stroke="#1a0007" stroke-width="1.0"/>
<circle cx="403.99" cy="145.10" r="2.0" fill="#a80a2f" stroke="#1a0007" stroke-width="1.0"/>
<circle cx="385.43" cy="122.86" r="2.0" fill="#a80a2f" stroke="#1a0007" stroke-width="1.0"/>
<circle cx="412.49" cy="144.64" r="2.0" fill="#a80a2f" stroke="#1a0007" stroke-width="1.0"/>
<circle cx="393.91" cy="154.48" r="2.0" fill="#a80a2f" stroke="#1a0007" stroke-width="1.0"/>
<circle cx="399.07" cy="152.36" r="2.0" fill="#a80a2f" stroke="#1a0007" stroke-width="1.0"/>
<circle cx="381.51" cy="132.18" r="2.0" fill="#a80a2f" stroke="#1a0007" stroke-width="1.0"/>
<circle cx="387.39" cy="148.47" r="2.0" fill="#a80a2f" stroke="#1a0007" stroke-width="1.0"/>
<circle cx="378.27" cy="132.95" r="2.0" fill="#a80a2f" stroke="#1a0007" stroke-width="1.0"/>
<circle cx="401.89" cy="154.07" r="2.0" fill="#a80a2f" stroke="#1a0007" stroke-width="1.0"/>
<circle cx="395.32" cy="143.12" r="2.0" fill="#a80a2f" stroke="#1a0007" stroke-width="1.0"/>
<circle cx="380.43" cy="165.38" r="2.0" fill="#a80a2f" stroke="#1a0007" stroke-width="1.0"/>
<circle cx="412.58" cy="167.59" r="2.0" fill="#a80a2f" stroke="#1a0007" stroke-width="1.0"/>
<circle cx="393.17" cy="161.55" r="2.0" fill="#a80a2f" stroke="#1a0007" stroke-width="1.0"/>
<circle cx="392.81" cy="132.94" r="2.0" fill="#a80a2f" stroke="#1a0007" stroke-width="1.0"/>
<circle cx="381.30" cy="146.20" r="2.0" fill="#a80a2f" stroke="#1a0007" stroke-width="1.0"/>
<circle cx="380.96" cy="161.57" r="2.0" fill="#a80a2f" stroke="#1a0007" stroke-width="1.0"/>
<circle cx="409.17" cy="155.50" r="2.0" fill="#a80a2f" stroke="#1a0007" stroke-width="1.0"/>
<circle cx="409.57" cy="144.23" r="2.0" fill="#a80a2f" stroke="#1a0007" stroke-width="1.0"/>
<circle cx="376.13" cy="144.52" r="2.0" fill="#a80a2f" stroke="#1a0007" stroke-width="1.0"/>
<circle cx="387.29" cy="126.30" r="2.0" fill="#a80a2f" stroke="#1a0007" stroke-width="1.0"/>
<circle cx="387.82" cy="162.61" r="2.0" fill="#a80a2f" stroke="#1a0007" stroke-width="1.0"/>
<circle cx="404.08" cy="162.55" r="2.0" fill="#a80a2f" stroke="#1a0007" stroke-width="1.0"/>
<circle cx="410.65" cy="156.01" r="2.0" fill="#a80a2f" stroke="#1a0007" stroke-width="1.0"/>
<circle cx="386.84" cy="138.32" r="2.0" fill="#a80a2f" stroke="#1a0007" stroke-width="1.0"/>
<circle cx="413.35" cy="149.58" r="2.0" fill="#a80a2f" stroke="#1a0007" stroke-width="1.0"/>
<circle cx="392.01" cy="133.28" r="2.0" fill="#a80a2f" stroke="#1a0007" stroke-width="1.0"/>
<circle cx="379.80" cy="162.32" r="2.0" fill="#a80a2f" stroke="#1a0007" stroke-width="1.0"/>
<circle cx="410.99" cy="131.94" r="2.0" fill="#a80a2f" stroke="#1a0007" stroke-width="1.0"/>
<circle cx="411.76" cy="164.89" r="2.0" fill="#a80a2f" stroke="#1a0007" stroke-width="1.0"/>
<circle cx="399.60" cy="166.41" r="2.0" fill="#a80a2f" stroke="#1a0007" stroke-width="1.0"/>
<circle cx="396.54" cy="156.35" r="2.0" fill="#a80a2f" stroke="#1a0007" stroke-width="1.0"/>
<circle cx="403.39" cy="142.40" r="2.0" fill="#a80a2f" stroke="#1a0007" stroke-width="1.0"/>
<circle cx="400.10" cy="133.85" r="2.0" fill="#a80a2f" stroke="#1a0007" stroke-width="1.0"/>
<circle cx="388.85" cy="134.45" r="2.0" fill="#a80a2f" stroke="#1a0007" stroke-width="1.0"/>
<circle cx="412.51" cy="132.50" r="2.0" fill="#a80a2f" stroke="#1a0007" stroke-width="1.0"/>
<circle cx="387.25" cy="147.92" r="2.0" fill="#a80a2f" stroke="#1a0007" stroke-width="1.0"/>
<circle cx="382.26" cy="127.39" r="2.0" fill="#a80a2f" stroke="#1a0007" stroke-width="1.0"/>
<circle cx="409.88" cy="144.80" r="2.0" fill="#a80a2f" stroke="#1a0007" stroke-width="1.0"/>
<circle cx="409.89" cy="170.72" r="2.0" fill="#a80a2f" stroke="#1a0007" stroke-width="1.0"/>
<circle cx="381.22" cy="128.99" r="2.0" fill="#a80a2f" stroke="#1a0007" stroke-width="1.0"/>
<circle cx="388.79" cy="123.73" r="2.0" fill="#a80a2f" stroke="#1a0007" stroke-width="1.0"/>
<circle cx="385.66" cy="148.56" r="2.0" fill="#a80a2f" stroke="#1a0007" stroke-width="1.0"/>
<circle cx="404.04" cy="140.42" r="2.0" fill="#a80a2f" stroke="#1a0007" stroke-width="1.0"/>
<circle cx="395.60" cy="138.56" r="2.0" fill="#a80a2f" stroke="#1a0007" stroke-width="1.0"/>
<circle cx="378.32" cy="133.40" r="2.0" fill="#a80a2f" stroke="#1a0007" stroke-width="1.0"/>
<circle cx="380.71" cy="145.13" r="2.0" fill="#a80a2f" stroke="#1a0007" stroke-width="1.0"/>
<circle cx="408.27" cy="130.21" r="2.0" fill="#a80a2f" stroke="#1a0007" stroke-width="1.0"/>
<circle cx="385.29" cy="139.75" r="2.0" fill="#a80a2f" stroke="#1a0007" stroke-width="1.0"/>
<circle cx="411.68" cy="163.05" r="2.0" fill="#a80a2f" stroke="#1a0007" stroke-width="1.0"/>
<circle cx="376.82" cy="120.67" r="2.0" fill="#a80a2f" stroke="#1a0007" stroke-width="1.0"/>
<circle cx="409.50" cy="143.56" r="2.0" fill="#a80a2f" stroke="#1a0007" stroke-width="1.0"/>
<circle cx="376.01" cy="139.32" r="2.0" fill="#a80a2f" stroke="#1a0007" stroke-width="1.0"/>
<circle cx="406.88" cy="163.40" r="2.0" fill="#a80a2f" stroke="#1a0007" stroke-width="1.0"/>
<circle cx="385.29" cy="124.66" r="2.0" fill="#a80a2f" stroke="#1a0007" stroke-width="1.0"/>
<circle cx="395.54" cy="154.40" r="2.0" fill="#a80a2f" stroke="#1a0007" stroke-width="1.0"/>
<circle cx="402.99" cy="152.60" r="2.0" fill="#a80a2f" stroke="#1a0007" stroke-width="1.0"/>
<circle cx="393.10" cy="147.62" r="2.0" fill="#a80a2f" stroke="#1a0007" stroke-width="1.0"/>
<circle cx="405.26" cy="131.07" r="2.0" fill="#a80a2f" stroke="#1a0007" stroke-width="1.0"/>
<circle cx="400.14" cy="134.77" r="2.0" fill="#a80a2f" stroke="#1a0007" stroke-width="1.0"/>
<circle cx="385.42" cy="152.02" r="2.0" fill="#a80a2f" stroke="#1a0007" stroke-width="1.0"/>
<circle cx="380.19" cy="122.65" r="2.0" fill="#a80a2f" stroke="#1a0007" stroke-width="1.0"/>
<circle cx="397.80" cy="139.14" r="2.0" fill="#a80a2f" stroke="#1a0007" stroke-width="1.0"/>
<circle cx="393.23" cy="168.77" r="2.0" fill="#a80a2f" stroke="#1a0007" stroke-width="1.0"/>
<circle cx="409.05" cy="143.67" r="2.0" fill="#a80a2f" stroke="#1a0007" stroke-width="1.0"/>
<circle cx="385.24" cy="168.86" r="2.0" fill="#a80a2f" stroke="#1a0007" stroke-width="1.0"/>
<circle cx="387.50" cy="120.13" r="2.0" fill="#a80a2f" stroke="#1a0007" stroke-width="1.0"/>
<circle cx="401.22" cy="140.80" r="2.0" fill="#a80a2f" stroke="#1a0007" stroke-width="1.0"/>
<circle cx="400.96" cy="167.02" r="2.0" fill="#a80a2f" stroke="#1a0007" stroke-width="1.0"/>
<circle cx="377.28" cy="136.54" r="2.0" fill="#a80a2f" stroke="#1a0007" stroke-width="1.0"/>
<circle cx="403.64" cy="145.20" r="2.0" fill="#a80a2f" stroke="#1a0007" stroke-width="1.0"/>
<circle cx="412.27" cy="135.18" r="2.0" fill="#a80a2f" stroke="#1a0007" stroke-width="1.0"/>
<circle cx="384.63" cy="130.49" r="2.0" fill="#a80a2f" stroke="#1a0007" stroke-width="1.0"/>
<circle cx="387.03" cy="168.41" r="2.0" fill="#a80a2f" stroke="#1a0007" stroke-width="1.0"/>
<circle cx="383.01" cy="130.59" r="2.0" fill="#a80a2f" stroke="#1a0007" stroke-width="1.0"/>
<circle cx="400.88" cy="168.24" r="2.0" fill="#a80a2f" stroke="#1a0007" stroke-width="1.0"/>
<circle cx="390.72" cy="130.05" r="2.0" fill="#a80a2f" stroke="#1a0007" stroke-width="1.0"/>
<circle cx="381.31" cy="121.69" r="2.0" fill="#a80a2f" stroke="#1a0007" stroke-width="1.0"/>
<circle cx="390.71" cy="165.61" r="2.0" fill="#a80a2f" stroke="#1a0007" stroke-width="1.0"/>
<circle cx="403.40" cy="170.77" r="2.0" fill="#a80a2f" stroke="#1a0007" stroke-width="1.0"/>
<circle cx="390.16" cy="138.40" r="2.0" fill="#a80a2f" stroke="#1a0007" stroke-width="1.0"/>
<circle cx="382.33" cy="119.15" r="2.0" fill="#a80a2f" stroke="#1a0007" stroke-width="1.0"/>
<circle cx="389.14" cy="168.59" r="2.0" fill="#a80a2f" stroke="#1a0007" stroke-width="1.0"/>
<circle cx="412.06" cy="129.76" r="2.0" fill="#a80a2f" stroke="#1a0007" stroke-width="1.0"/>
<circle cx="406.73" cy="161.66" r="2.0" fill="#a80a2f" stroke="#1a0007" stroke-width="1.0"/>
<circle cx="377.84" cy="143.57" r="2.0" fill="#a80a2f" stroke="#1a0007" stroke-width="1.0"/>
<circle cx="410.39" cy="129.02" r="2.0" fill="#a80a2f" stroke="#1a0007" stroke-width="1.0"/>
<circle cx="406.36" cy="158.79" r="2.0" fill="#a80a2f" stroke="#1a0007" stroke-width="1.0"/>
<circle cx="385.61" cy="157.78" r="2.0" fill="#a80a2f" stroke="#1a0007" stroke-width="1.0"/>
<circle cx="388.68" cy="133.13" r="2.0" fill="#a80a2f" stroke="#1a0007" stroke-width="1.0"/>
<circle cx="399.07" cy="132.61" r="2.0" fill="#a80a2f" stroke="#1a0007" stroke-width="1.0"/>
<circle cx="387.84" cy="133.31" r="2.0" fill="#a80a2f" stroke="#1a0007" stroke-width="1.0"/>
<circle cx="404.26" cy="166.56" r="2.0" fill="#a80a2f" stroke="#1a0007" stroke-width="1.0"/>
<circle cx="393.77" cy="168.66" r="2.0" fill="#a80a2f" stroke="#1a0007" stroke-width="1.0"/>
<circle cx="390.46" cy="132.03" r="2.0" fill="#a80a2f" stroke="#1a0007" stroke-width="1.0"/>
<circle cx="394.46" cy="167.17" r="2.0" fill="#a80a2f" stroke="#1a0007" stroke-width="1.0"/>
<circle cx="406.02" cy="157.33" r="2.0" fill="#a80a2f" stroke="#1a0007" stroke-width="1.0"/>
<circle cx="404.90" cy="150.52" r="2.0" fill="#a80a2f" stroke="#1a0007" stroke-width="1.0"/>
<circle cx="387.95" cy="137.78" r="2.0" fill="#a80a2f" stroke="#1a0007" stroke-width="1.0"/>
<circle cx="385.25" cy="122.36" r="2.0" fill="#a80a2f" stroke="#1a0007" stroke-width="1.0"/>
<circle cx="396.67" cy="135.91" r="2.0" fill="#a80a2f" stroke="#1a0007" stroke-width="1.0"/>
<circle cx="409.04" cy="170.27" r="2.0" fill="#a80a2f" stroke="#1a0007" stroke-width="1.0"/>
<circle cx="379.14" cy="124.00" r="2.0" fill="#a80a2f" stroke="#1a0007" stroke-width="1.0"/>
<circle cx="402.55" cy="142.20" r="2.0" fill="#a80a2f" stroke="#1a0007" stroke-width="1.0"/>
<circle cx="391.59" cy="151.19" r="2.0" fill="#a80a2f" stroke="#1a0007" stroke-width="1.0"/>
<circle cx="403.97" cy="162.96" r="2.0" fill="#a80a2f" stroke="#1a0007" stroke-width="1.0"/>
<circle cx="380.53" cy="162.64" r="2.0" fill="#a80a2f" stroke="#1a0007" stroke-width="1.0"/>
<circle cx="397.20" cy="138.36" r="2.0" fill="#a80a2f" stroke="#1a0007" stroke-width="1.0"/>
<circle cx="383.45" cy="131.84" r="2.0" fill="#a80a2f" stroke="#1a0007" stroke-width="1.0"/>
<circle cx="381.73" cy="164.89" r="2.0" fill="#a80a2f" stroke="#1a0007" stroke-width="1.0"/>
<circle cx="388.21" cy="139.56" r="2.0" fill="#a80a2f" stroke="#1a0007" stroke-width="1.0"/>
<circle cx="394.97" cy="131.01" r="2.0" fill="#a80a2f" stroke="#1a0007" stroke-width="1.0"/>
<circle cx="400.43" cy="170.43" r="2.0" fill="#a80a2f" stroke="#1a0007" stroke-width="1.0"/>
<circle cx="393.76" cy="161.51" r="2.0" fill="#a80a2f" stroke="#1a0007" stroke-width="1.0"/>
<circle cx="397.81" cy="167.28" r="2.0" fill="#a80a2f" stroke="#1a0007" stroke-width="1.0"/>
<circle cx="408.39" cy="142.31" r="2.0" fill="#a80a2f" stroke="#1a0007" stroke-width="1.0"/>
<circle cx="405.09" cy="168.08" r="2.0" fill="#a80a2f" stroke="#1a0007" stroke-width="1.0"/>
<circle cx="398.30" cy="151.18" r="2.0" fill="#a80a2f" stroke="#1a0007" stroke-width="1.0"/>
<circle cx="389.79" cy="126.34" r="2.0" fill="#a80a2f" stroke="#1a0007" stroke-width="1.0"/>
<circle cx="385.53" cy="150.11" r="2.0" fill="#a80a2f" stroke="#1a0007" stroke-width="1.0"/>
<circle cx="383.61" cy="119.59" r="2.0" fill="#a80a2f" stroke="#1a0007" stroke-width="1.0"/>
<circle cx="401.37" cy="128.61" r="2.0" fill="#a80a2f" stroke="#1a0007" stroke-width="1.0"/>
<circle cx="383.61" cy="160.28" r="2.0" fill="#a80a2f" stroke="#1a0007" stroke-width="1.0"/>
<circle cx="378.37" cy="124.26" r="2.0" fill="#a80a2f" stroke="#1a0007" stroke-width="1.0"/>
<circle cx="396.58" cy="152.17" r="2.0" fill="#a80a2f" stroke="#1a0007" stroke-width="1.0"/>
<circle cx="382.12" cy="155.09" r="2.0" fill="#a80a2f" stroke="#1a0007" stroke-width="1.0"/>
<circle cx="386.60" cy="134.96" r="2.0" fill="#a80a2f" stroke="#1a0007" stroke-width="1.0"/>
<circle cx="387.68" cy="148.40" r="2.0" fill="#a80a2f" stroke="#1a0007" stroke-width="1.0"/>
<circle cx="391.58" cy="163.85" r="2.0" fill="#a80a2f" stroke="#1a0007" stroke-width="1.0"/>
<circle cx="389.61" cy="129.23" r="2.0" fill="#a80a2f" stroke="#1a0007" stroke-width="1.0"/>
<circle cx="391.85" cy="161.58" r="2.0" fill="#a80a2f" stroke="#1a0007" stroke-width="1.0"/>
<circle cx="409.02" cy="142.92" r="2.0" fill="#a80a2f" stroke="#1a0007" stroke-width="1.0"/>
<circle cx="376.55" cy="147.63" r="2.0" fill="#a80a2f" stroke="#1a0007" stroke-width="1.0"/>
<circle cx="389.87" cy="145.18" r="2.0" fill="#a80a2f" stroke="#1a0007" stroke-width="1.0"/>
<circle cx="386.60" cy="146.05" r="2.0" fill="#a80a2f" stroke="#1a0007" stroke-width="1.0"/>
<circle cx="380.07" cy="144.46" r="2.0" fill="#a80a2f" stroke="#1a0007" stroke-width="1.0"/>
<circle cx="412.16" cy="129.24" r="2.0" fill="#a80a2f" stroke="#1a0007" stroke-width="1.0"/>
<circle cx="411.27" cy="169.63" r="2.0" fill="#a80a2f" stroke="#1a0007" stroke-width="1.0"/>
<circle cx="378.00" cy="167.07" r="2.0" fill="#a80a2f" stroke="#1a0007" stroke-width="1.0"/>
<circle cx="409.82" cy="151.20" r="2.0" fill="#a80a2f" stroke="#1a0007" stroke-width="1.0"/>
<circle cx="381.99" cy="159.78" r="2.0" fill="#a80a2f" stroke="#1a0007" stroke-width="1.0"/>
<circle cx="391.13" cy="162.93" r="2.0" fill="#a80a2f" stroke="#1a0007" stroke-width="1.0"/>
<circle cx="382.84" cy="130.32" r="2.0" fill="#a80a2f" stroke="#1a0007" stroke-width="1.0"/>
<circle cx="395.37" cy="138.91" r="2.0" fill="#a80a2f" stroke="#1a0007" stroke-width="1.0"/>
<circle cx="385.24" cy="156.62" r="2.0" fill="#a80a2f" stroke="#1a0007" stroke-width="1.0"/>
<circle cx="377.54" cy="148.19" r="2.0" fill="#a80a2f" stroke="#1a0007" stroke-width="1.0"/>
<circle cx="377.43" cy="162.50" r="2.0" fill="#a80a2f" stroke="#1a0007" stroke-width="1.0"/>
<circle cx="398.42" cy="147.55" r="2.0" fill="#a80a2f" stroke="#1a0007" stroke-width="1.0"/>
<circle cx="387.45" cy="140.80" r="2.0" fill="#a80a2f" stroke="#1a0007" stroke-width="1.0"/>
<circle cx="391.92" cy="153.19" r="2.0" fill="#a80a2f" stroke="#1a0007" stroke-width="1.0"/>
<circle cx="394.31" cy="131.21" r="2.0" fill="#a80a2f" stroke="#1a0007" stroke-width="1.0"/>
<circle cx="405.17" cy="142.79" r="2.0" fill="#a80a2f" stroke="#1a0007" stroke-width="1.0"/>
<circle cx="393.70" cy="124.56" r="2.0" fill="#a80a2f" stroke="#1a0007" stroke-width="1.0"/>
<circle cx="379.08" cy="157.07" r="2.0" fill="#a80a2f" stroke="#1a0007" stroke-width="1.0"/>
<circle cx="390.13" cy="168.35" r="2.0" fill="#a80a2f" stroke="#1a0007" stroke-width="1.0"/>
<circle cx="408.05" cy="170.70" r="2.0" fill="#a80a2f" stroke="#1a0007" stroke-width="1.0"/>
<circle cx="394.40" cy="168.65" r="2.0" fill="#a80a2f" stroke="#1a0007" stroke-width="1.0"/>
<circle cx="382.18" cy="159.92" r="2.0" fill="#a80a2f" stroke="#1a0007" stroke-width="1.0"/>
<circle cx="378.45" cy="137.21" r="2.0" fill="#a80a2f" stroke="#1a0007" stroke-width="1.0"/>
<circle cx="381.94" cy="165.53" r="2.0" fill="#a80a2f" stroke="#1a0007" stroke-width="1.0"/>
<circle cx="410.40" cy="129.81" r="2.0" fill="#a80a2f" stroke="#1a0007" stroke-width="1.0"/>
<circle cx="394.92" cy="135.56" r="2.0" fill="#a80a2f" stroke="#1a0007" stroke-width="1.0"/>
<circle cx="401.42" cy="165.47" r="2.0" fill="#a80a2f" stroke="#1a0007" stroke-width="1.0"/>
<circle cx="399.80" cy="137.67" r="2.0" fill="#a80a2f" stroke="#1a0007" stroke-width="1.0"/>
<circle cx="396.76" cy="149.10" r="2.0" fill="#a80a2f" stroke="#1a0007" stroke-width="1.0"/>
<circle cx="379.91" cy="170.53" r="2.0" fill="#a80a2f" stroke="#1a0007" stroke-width="1.0"/>
<circle cx="390.75" cy="160.40" r="2.0" fill="#a80a2f" stroke="#1a0007" stroke-width="1.0"/>
<circle cx="413.04" cy="148.97" r="2.0" fill="#a80a2f" stroke="#1a0007" stroke-width="1.0"/>
<circle cx="404.60" cy="141.95" r="2.0" fill="#a80a2f" stroke="#1a0007" stroke-width="1.0"/>
<circle cx="385.49" cy="152.18" r="2.0" fill="#a80a2f" stroke="#1a0007" stroke-width="1.0"/>
<circle cx="397.91" cy="153.45" r="2.0" fill="#a80a2f" stroke="#1a0007" stroke-width="1.0"/>
<circle cx="376.07" cy="120.75" r="2.0" fill="#a80a2f" stroke="#1a0007" stroke-width="1.0"/>
<circle cx="399.04" cy="141.43" r="2.0" fill="#a80a2f" stroke="#1a0007" stroke-width="1.0"/>
<circle cx="409.49" cy="125.85" r="2.0" fill="#a80a2f" stroke="#1a0007" stroke-width="1.0"/>
<circle cx="400.43" cy="120.16" r="2.0" fill="#a80a2f" stroke="#1a0007" stroke-width="1.0"/>
<circle cx="389.28" cy="124.52" r="2.0" fill="#a80a2f" stroke="#1a0007" stroke-width="1.0"/>
<circle cx="384.39" cy="149.29" r="2.0" fill="#a80a2f" stroke="#1a0007" stroke-width="1.0"/>
<circle cx="383.64" cy="151.38" r="2.0" fill="#a80a2f" stroke="#1a0007" stroke-width="1.0"/>
<circle cx="381.04" cy="167.61" r="2.0" fill="#a80a2f" stroke="#1a0007" stroke-width="1.0"/>
<circle cx="381.58" cy="123.97" r="2.0" fill="#a80a2f" stroke="#1a0007" stroke-width="1.0"/>
<circle cx="408.59" cy="159.59" r="2.0" fill="#a80a2f" stroke="#1a0007" stroke-width="1.0"/>
<circle cx="385.88" cy="119.60" r="2.0" fill="#a80a2f" stroke="#1a0007" stroke-width="1.0"/>
<circle cx="397.03" cy="137.18" r="2.0" fill="#a80a2f" stroke="#1a0007" stroke-width="1.0"/>
<circle cx="392.60" cy="167.64" r="2.0" fill="#a80a2f" stroke="#1a0007" stroke-width="1.0"/>
<circle cx="385.29" cy="165.89" r="2.0" fill="#a80a2f" stroke="#1a0007" stroke-width="1.0"/>
<circle cx="395.88" cy="140.07" r="2.0" fill="#a80a2f" stroke="#1a0007" stroke-width="1.0"/>
<circle cx="378.18" cy="159.42" r="2.0" fill="#a80a2f" stroke="#1a0007" stroke-width="1.0"/>
<circle cx="396.60" cy="167.83" r="2.0" fill="#a80a2f" stroke="#1a0007" stroke-width="1.0"/>
<circle cx="383.46" cy="150.56" r="2.0" fill="#a80a2f" stroke="#1a0007" stroke-width="1.0"/>
<circle cx="399.99" cy="161.21" r="2.0" fill="#a80a2f" stroke="#1a0007" stroke-width="1.0"/>
<circle cx="387.57" cy="134.58" r="2.0" fill="#a80a2f" stroke="#1a0007" stroke-width="1.0"/>
<circle cx="409.26" cy="159.64" r="2.0" fill="#a80a2f" stroke="#1a0007" stroke-width="1.0"/>
<circle cx="376.24" cy="162.83" r="2.0" fill="#a80a2f" stroke="#1a0007" stroke-width="1.0"/>
<circle cx="393.40" cy="157.50" r="2.0" fill="#a80a2f" stroke="#1a0007" stroke-width="1.0"/>
<circle cx="384.45" cy="124.46" r="2.0" fill="#a80a2f" stroke="#1a0007" stroke-width="1.0"/>
<circle cx="377.45" cy="136.41" r="2.0" fill="#a80a2f" stroke="#1a0007" stroke-width="1.0"/>
<circle cx="402.00" cy="162.87" r="2.0" fill="#a80a2f" stroke="#1a0007" stroke-width="1.0"/>
<circle cx="385.95" cy="147.74" r="2.0" fill="#a80a2f" stroke="#1a0007" stroke-width="1.0"/>
<circle cx="405.49" cy="146.16" r="2.0" fill="#a80a2f" stroke="#1a0007" stroke-width="1.0"/>
<circle cx="400.01" cy="169.09" r="2.0" fill="#a80a2f" stroke="#1a0007" stroke-width="1.0"/>
<circle cx="384.83" cy="157.61" r="2.0" fill="#a80a2f" stroke="#1a0007" stroke-width="1.0"/>
<circle cx="403.91" cy="135.96" r="2.0" fill="#a80a2f" stroke="#1a0007" stroke-width="1.0"/>
<circle cx="388.29" cy="131.41" r="2.0" fill="#a80a2f" stroke="#1a0007" stroke-width="1.0"/>
<circle cx="399.59" cy="154.96" r="2.0" fill="#a80a2f" stroke="#1a0007" stroke-width="1.0"/>
<circle cx="412.62" cy="143.37" r="2.0" fill="#a80a2f" stroke="#1a0007" stroke-width="1.0"/>
<circle cx="402.09" cy="163.51" r="2.0" fill="#a80a2f" stroke="#1a0007" stroke-width="1.0"/>
<circle cx="403.10" cy="148.60" r="2.0" fill="#a80a2f" stroke="#1a0007" stroke-width="1.0"/>
<circle cx="383.93" cy="151.31" r="2.0" fill="#a80a2f" stroke="#1a0007" stroke-width="1.0"/>
<circle cx="410.06" cy="126.50" r="2.0" fill="#a80a2f" stroke="#1a0007" stroke-width="1.0"/>
<circle cx="379.99" cy="167.21" r="2.0" fill="#a80a2f" stroke="#1a0007" stroke-width="1.0"/>
<circle cx="381.30" cy="120.49" r="2.0" fill="#a80a2f" stroke="#1a0007" stroke-width="1.0"/>
<circle cx="401.90" cy="151.90" r="2.0" fill="#a80a2f" stroke="#1a0007" stroke-width="1.0"/>
<circle cx="389.59" cy="161.43" r="2.0" fill="#a80a2f" stroke="#1a0007" stroke-width="1.0"/>
<circle cx="410.20" cy="168.01" r="2.0" fill="#a80a2f" stroke="#1a0007" stroke-width="1.0"/>
<circle cx="383.69" cy="124.81" r="2.0" fill="#a80a2f" stroke="#1a0007" stroke-width="1.0"/>
<circle cx="407.70" cy="161.14" r="2.0" fill="#a80a2f" stroke="#1a0007" stroke-width="1.0"/>
<circle cx="406.86" cy="151.78" r="2.0" fill="#a80a2f" stroke="#1a0007" stroke-width="1.0"/>
<circle cx="383.67" cy="135.56" r="2.0" fill="#a80a2f" stroke="#1a0007" stroke-width="1.0"/>
<circle cx="376.78" cy="132.32" r="2.0" fill="#a80a2f" stroke="#1a0007" stroke-width="1.0"/>
<circle cx="402.77" cy="138.10" r="2.0" fill="#a80a2f" stroke="#1a0007" stroke-width="1.0"/>
<circle cx="412.05" cy="145.14" r="2.0" fill="#a80a2f" stroke="#1a0007" stroke-width="1.0"/>
<circle cx="392.32" cy="159.12" r="2.0" fill="#a80a2f" stroke="#1a0007" stroke-width="1.0"/>
<circle cx="402.35" cy="146.92" r="2.0" fill="#a80a2f" stroke="#1a0007" stroke-width="1.0"/>
<circle cx="382.37" cy="119.07" r="2.0" fill="#a80a2f" stroke="#1a0007" stroke-width="1.0"/>
<circle cx="404.51" cy="169.75" r="2.0" fill="#a80a2f" stroke="#1a0007" stroke-width="1.0"/>
<circle cx="394.36" cy="144.51" r="2.0" fill="#a80a2f" stroke="#1a0007" stroke-width="1.0"/>
<circle cx="382.90" cy="144.67" r="2.0" fill="#a80a2f" stroke="#1a0007" stroke-width="1.0"/>
<circle cx="407.11" cy="132.52" r="2.0" fill="#a80a2f" stroke="#1a0007" stroke-width="1.0"/>
<circle cx="386.61" cy="130.14" r="2.0" fill="#a80a2f" stroke="#1a0007" stroke-width="1.0"/>
<circle cx="379.03" cy="159.89" r="2.0" fill="#a80a2f" stroke="#1a0007" stroke-width="1.0"/>
<circle cx="405.43" cy="151.59" r="2.0" fill="#a80a2f" stroke="#1a0007" stroke-width="1.0"/>
<circle cx="391.01" cy="139.48" r="2.0" fill="#a80a2f" stroke="#1a0007" stroke-width="1.0"/>
<circle cx="379.22" cy="165.11" r="2.0" fill="#a80a2f" stroke="#1a0007" stroke-width="1.0"/>
<circle cx="383.71" cy="132.66" r="2.0" fill="#a80a2f" stroke="#1a0007" stroke-width="1.0"/>
<circle cx="394.74" cy="138.69" r="2.0" fill="#a80a2f" stroke="#1a0007" stroke-width="1.0"/>
<circle cx="384.74" cy="142.92" r="2.0" fill="#a80a2f" stroke="#1a0007" stroke-width="1.0"/>
<circle cx="404.22" cy="158.08" r="2.0" fill="#a80a2f" stroke="#1a0007" stroke-width="1.0"/>
<circle cx="389.03" cy="135.95" r="2.0" fill="#a80a2f" stroke="#1a0007" stroke-width="1.0"/>
<circle cx="407.53" cy="153.36" r="2.0" fill="#a80a2f" stroke="#1a0007" stroke-width="1.0"/>
<circle cx="382.34" cy="141.77" r="2.0" fill="#a80a2f" stroke="#1a0007" stroke-width="1.0"/>
<circle cx="409.10" cy="131.35" r="2.0" fill="#a80a2f" stroke="#1a0007" stroke-width="1.0"/>
<circle cx="387.28" cy="155.49" r="2.0" fill="#a80a2f" stroke="#1a0007" stroke-width="1.0"/>
<circle cx="381.78" cy="127.10" r="2.0" fill="#a80a2f" stroke="#1a0007" stroke-width="1.0"/>
<circle cx="388.21" cy="146.10" r="2.0" fill="#a80a2f" stroke="#1a0007" stroke-width="1.0"/>
<circle cx="379.80" cy="138.94" r="2.0" fill="#a80a2f" stroke="#1a0007" stroke-width="1.0"/>
<circle cx="405.73" cy="157.06" r="2.0" fill="#a80a2f" stroke="#1a0007" stroke-width="1.0"/>
<circle cx="383.34" cy="152.11" r="2.0" fill="#a80a2f" stroke="#1a0007" stroke-width="1.0"/>
<circle cx="383.72" cy="139.15" r="2.0" fill="#a80a2f" stroke="#1a0007" stroke-width="1.0"/>
<circle cx="390.92" cy="160.05" r="2.0" fill="#a80a2f" stroke="#1a0007" stroke-width="1.0"/>
<circle cx="394.72" cy="151.82" r="2.0" fill="#a80a2f" stroke="#1a0007" stroke-width="1.0"/>
<circle cx="381.30" cy="150.33" r="2.0" fill="#a80a2f" stroke="#1a0007" stroke-width="1.0"/>
<circle cx="403.71" cy="166.13" r="2.0" fill="#a80a2f" stroke="#1a0007" stroke-width="1.0"/>
<circle cx="397.47" cy="157.88" r="2.0" fill="#a80a2f" stroke="#1a0007" stroke-width="1.0"/>
<circle cx="384.55" cy="156.48" r="2.0" fill="#a80a2f" stroke="#1a0007" stroke-width="1.0"/>
<circle cx="404.95" cy="155.33" r="2.0" fill="#a80a2f" stroke="#1a0007" stroke-width="1.0"/>
<circle cx="401.42" cy="152.30" r="2.0" fill="#a80a2f" stroke="#1a0007" stroke-width="1.0"/>
<circle cx="387.71" cy="151.61" r="2.0" fill="#a80a2f" stroke="#1a0007" stroke-width="1.0"/>
<circle cx="391.69" cy="159.61" r="2.0" fill="#a80a2f" stroke="#1a0007" stroke-width="1.0"/>
<circle cx="399.55" cy="131.98" r="2.0" fill="#a80a2f" stroke="#1a0007" stroke-width="1.0"/>
<circle cx="393.02" cy="151.26" r="2.0" fill="#a80a2f" stroke="#1a0007" stroke-width="1.0"/>
<circle cx="401.25" cy="167.28" r="2.0" fill="#a80a2f" stroke="#1a0007" stroke-width="1.0"/>
<circle cx="400.48" cy="159.39" r="2.0" fill="#a80a2f" stroke="#1a0007" stroke-width="1.0"/>
<circle cx="394.32" cy="169.58" r="2.0" fill="#a80a2f" stroke="#1a0007" stroke-width="1.0"/>
<circle cx="411.18" cy="145.95" r="2.0" fill="#a80a2f" stroke="#1a0007" stroke-width="1.0"/>
<circle cx="397.49" cy="147.08" r="2.0" fill="#a80a2f" stroke="#1a0007" stroke-width="1.0"/>
<circle cx="395.16" cy="152.18" r="2.0" fill="#a80a2f" stroke="#1a0007" stroke-width="1.0"/>
<circle cx="395.51" cy="140.30" r="2.0" fill="#a80a2f" stroke="#1a0007" stroke-width="1.0"/>
<circle cx="383.86" cy="154.52" r="2.0" fill="#a80a2f" stroke="#1a0007" stroke-width="1.0"/>
<circle cx="389.29" cy="121.94" r="2.0" fill="#a80a2f" stroke="#1a0007" stroke-width="1.0"/>
<circle cx="390.95" cy="119.69" r="2.0" fill="#a80a2f" stroke="#1a0007" stroke-width="1.0"/>
<circle cx="391.73" cy="155.24" r="2.0" fill="#a80a2f" stroke="#1a0007" stroke-width="1.0"/>
<circle cx="385.92" cy="130.65" r="2.0" fill="#a80a2f" stroke="#1a0007" stroke-width="1.0"/>
<circle cx="411.15" cy="146.36" r="2.0" fill="#a80a2f" stroke="#1a0007" stroke-width="1.0"/>
<circle cx="405.98" cy="139.34" r="2.0" fill="#a80a2f" stroke="#1a0007" stroke-width="1.0"/>
<circle cx="380.84" cy="159.31" r="2.0" fill="#a80a2f" stroke="#1a0007" stroke-width="1.0"/>
<circle cx="399.72" cy="143.35" r="2.0" fill="#a80a2f" stroke="#1a0007" stroke-width="1.0"/>
<circle cx="384.45" cy="169.02" r="2.0" fill="#a80a2f" stroke="#1a0007" stroke-width="1.0"/>
<circle cx="399.89" cy="161.49" r="2.0" fill="#a80a2f" stroke="#1a0007" stroke-width="1.0"/>
<circle cx="393.51" cy="134.28" r="2.0" fill="#a80a2f" stroke="#1a0007" stroke-width="1.0"/>
<circle cx="380.68" cy="162.27" r="2.0" fill="#a80a2f" stroke="#1a0007" stroke-width="1.0"/>
<circle cx="407.82" cy="132.88" r="2.0" fill="#a80a2f" stroke="#1a0007" stroke-width="1.0"/>
<circle cx="385.48" cy="141.11" r="2.0" fill="#a80a2f" stroke="#1a0007" stroke-width="1.0"/>
<circle cx="376.10" cy="156.46" r="2.0" fill="#a80a2f" stroke="#1a0007" stroke-width="1.0"/>
<circle cx="385.16" cy="134.66" r="2.0" fill="#a80a2f" stroke="#1a0007" stroke-width="1.0"/>
<circle cx="392.03" cy="152.08" r="2.0" fill="#a80a2f" stroke="#1a0007" stroke-width="1.0"/>
<circle cx="389.55" cy="167.20" r="2.0" fill="#a80a2f" stroke="#1a0007" stroke-width="1.0"/>
<circle cx="378.13" cy="161.97" r="2.0" fill="#a80a2f" stroke="#1a0007" stroke-width="1.0"/>
<circle cx="399.68" cy="119.78" r="2.0" fill="#a80a2f" stroke="#1a0007" stroke-width="1.0"/>
<circle cx="411.60" cy="153.04" r="2.0" fill="#a80a2f" stroke="#1a0007" stroke-width="1.0"/>
<circle cx="379.80" cy="126.41" r="2.0" fill="#a80a2f" stroke="#1a0007" stroke-width="1.0"/>
<circle cx="405.03" cy="136.98" r="2.0" fill="#a80a2f" stroke="#1a0007" stroke-width="1.0"/>
<circle cx="409.81" cy="160.09" r="2.0" fill="#a80a2f" stroke="#1a0007" stroke-width="1.0"/>
<circle cx="394.70" cy="44.60" r="2.0" fill="#a80a2f" stroke="#1a0007" stroke-width="1.0"/>
<circle cx="459.50" cy="146.00" r="2.0" fill="#3e9cc6" stroke="#061c28" stroke-width="1.0"/>
<circle cx="447.50" cy="148.60" r="2.0" fill="#3e9cc6" stroke="#061c28" stroke-width="1.0"/>
<circle cx="466.50" cy="149.20" r="2.0" fill="#3e9cc6" stroke="#061c28" stroke-width="1.0"/>
<circle cx="455.00" cy="151.00" r="2.0" fill="#3e9cc6" stroke="#061c28" stroke-width="1.0"/>
<circle cx="470.50" cy="151.40" r="2.0" fill="#3e9cc6" stroke="#061c28" stroke-width="1.0"/>
<circle cx="441.50" cy="152.60" r="2.0" fill="#3e9cc6" stroke="#061c28" stroke-width="1.0"/>
<circle cx="470.72" cy="161.57" r="2.0" fill="#3e9cc6" stroke="#061c28" stroke-width="1.0"/>
<circle cx="466.81" cy="162.67" r="2.0" fill="#3e9cc6" stroke="#061c28" stroke-width="1.0"/>
<circle cx="470.82" cy="164.84" r="2.0" fill="#3e9cc6" stroke="#061c28" stroke-width="1.0"/>
<circle cx="468.86" cy="154.09" r="2.0" fill="#3e9cc6" stroke="#061c28" stroke-width="1.0"/>
<circle cx="463.66" cy="160.16" r="2.0" fill="#3e9cc6" stroke="#061c28" stroke-width="1.0"/>
<circle cx="465.41" cy="158.48" r="2.0" fill="#3e9cc6" stroke="#061c28" stroke-width="1.0"/>
<circle cx="470.42" cy="160.60" r="2.0" fill="#3e9cc6" stroke="#061c28" stroke-width="1.0"/>
<circle cx="448.42" cy="154.76" r="2.0" fill="#3e9cc6" stroke="#061c28" stroke-width="1.0"/>
<circle cx="443.96" cy="159.47" r="2.0" fill="#3e9cc6" stroke="#061c28" stroke-width="1.0"/>
<circle cx="441.08" cy="159.00" r="2.0" fill="#3e9cc6" stroke="#061c28" stroke-width="1.0"/>
<circle cx="444.14" cy="159.44" r="2.0" fill="#3e9cc6" stroke="#061c28" stroke-width="1.0"/>
<circle cx="456.74" cy="160.32" r="2.0" fill="#3e9cc6" stroke="#061c28" stroke-width="1.0"/>
<circle cx="468.93" cy="159.02" r="2.0" fill="#3e9cc6" stroke="#061c28" stroke-width="1.0"/>
<circle cx="459.03" cy="162.61" r="2.0" fill="#3e9cc6" stroke="#061c28" stroke-width="1.0"/>
<circle cx="468.92" cy="157.32" r="2.0" fill="#3e9cc6" stroke="#061c28" stroke-width="1.0"/>
<circle cx="453.91" cy="167.98" r="2.0" fill="#3e9cc6" stroke="#061c28" stroke-width="1.0"/>
<circle cx="441.68" cy="162.09" r="2.0" fill="#3e9cc6" stroke="#061c28" stroke-width="1.0"/>
<circle cx="460.70" cy="162.92" r="2.0" fill="#3e9cc6" stroke="#061c28" stroke-width="1.0"/>
<circle cx="472.16" cy="156.51" r="2.0" fill="#3e9cc6" stroke="#061c28" stroke-width="1.0"/>
<circle cx="473.95" cy="159.79" r="2.0" fill="#3e9cc6" stroke="#061c28" stroke-width="1.0"/>
<circle cx="456.25" cy="166.84" r="2.0" fill="#3e9cc6" stroke="#061c28" stroke-width="1.0"/>
<circle cx="440.21" cy="163.57" r="2.0" fill="#3e9cc6" stroke="#061c28" stroke-width="1.0"/>
<circle cx="461.26" cy="156.66" r="2.0" fill="#3e9cc6" stroke="#061c28" stroke-width="1.0"/>
<circle cx="469.68" cy="157.16" r="2.0" fill="#3e9cc6" stroke="#061c28" stroke-width="1.0"/>
<circle cx="455.89" cy="160.06" r="2.0" fill="#3e9cc6" stroke="#061c28" stroke-width="1.0"/>
<circle cx="466.43" cy="154.34" r="2.0" fill="#3e9cc6" stroke="#061c28" stroke-width="1.0"/>
<circle cx="454.49" cy="158.19" r="2.0" fill="#3e9cc6" stroke="#061c28" stroke-width="1.0"/>
<circle cx="458.72" cy="165.55" r="2.0" fill="#3e9cc6" stroke="#061c28" stroke-width="1.0"/>
<circle cx="449.43" cy="165.56" r="2.0" fill="#3e9cc6" stroke="#061c28" stroke-width="1.0"/>
<circle cx="453.37" cy="159.67" r="2.0" fill="#3e9cc6" stroke="#061c28" stroke-width="1.0"/>
<circle cx="448.67" cy="159.72" r="2.0" fill="#3e9cc6" stroke="#061c28" stroke-width="1.0"/>
<circle cx="473.71" cy="162.41" r="2.0" fill="#3e9cc6" stroke="#061c28" stroke-width="1.0"/>
<circle cx="467.19" cy="156.52" r="2.0" fill="#3e9cc6" stroke="#061c28" stroke-width="1.0"/>
<circle cx="450.29" cy="155.95" r="2.0" fill="#3e9cc6" stroke="#061c28" stroke-width="1.0"/>
<circle cx="459.88" cy="162.05" r="2.0" fill="#3e9cc6" stroke="#061c28" stroke-width="1.0"/>
<circle cx="464.73" cy="166.62" r="2.0" fill="#3e9cc6" stroke="#061c28" stroke-width="1.0"/>
<circle cx="445.76" cy="167.27" r="2.0" fill="#3e9cc6" stroke="#061c28" stroke-width="1.0"/>
<circle cx="460.67" cy="162.48" r="2.0" fill="#3e9cc6" stroke="#061c28" stroke-width="1.0"/>
<circle cx="467.09" cy="167.06" r="2.0" fill="#3e9cc6" stroke="#061c28" stroke-width="1.0"/>
<circle cx="460.78" cy="161.72" r="2.0" fill="#3e9cc6" stroke="#061c28" stroke-width="1.0"/>
<circle cx="461.31" cy="163.17" r="2.0" fill="#3e9cc6" stroke="#061c28" stroke-width="1.0"/>
<circle cx="460.23" cy="162.89" r="2.0" fill="#3e9cc6" stroke="#061c28" stroke-width="1.0"/>
<circle cx="446.57" cy="162.64" r="2.0" fill="#3e9cc6" stroke="#061c28" stroke-width="1.0"/>
<circle cx="455.30" cy="164.38" r="2.0" fill="#3e9cc6" stroke="#061c28" stroke-width="1.0"/>
<circle cx="440.32" cy="164.60" r="2.0" fill="#3e9cc6" stroke="#061c28" stroke-width="1.0"/>
<circle cx="471.54" cy="162.43" r="2.0" fill="#3e9cc6" stroke="#061c28" stroke-width="1.0"/>
<circle cx="452.13" cy="165.47" r="2.0" fill="#3e9cc6" stroke="#061c28" stroke-width="1.0"/>
<circle cx="467.00" cy="160.73" r="2.0" fill="#3e9cc6" stroke="#061c28" stroke-width="1.0"/>
<circle cx="448.18" cy="156.00" r="2.0" fill="#3e9cc6" stroke="#061c28" stroke-width="1.0"/>
<circle cx="454.02" cy="156.30" r="2.0" fill="#3e9cc6" stroke="#061c28" stroke-width="1.0"/>
<circle cx="454.33" cy="162.18" r="2.0" fill="#3e9cc6" stroke="#061c28" stroke-width="1.0"/>
<circle cx="443.23" cy="165.25" r="2.0" fill="#3e9cc6" stroke="#061c28" stroke-width="1.0"/>
<circle cx="459.48" cy="167.22" r="2.0" fill="#3e9cc6" stroke="#061c28" stroke-width="1.0"/>
<circle cx="452.78" cy="161.27" r="2.0" fill="#3e9cc6" stroke="#061c28" stroke-width="1.0"/>
<circle cx="472.38" cy="168.35" r="2.0" fill="#3e9cc6" stroke="#061c28" stroke-width="1.0"/>
<circle cx="455.93" cy="158.01" r="2.0" fill="#3e9cc6" stroke="#061c28" stroke-width="1.0"/>
<circle cx="442.63" cy="162.23" r="2.0" fill="#3e9cc6" stroke="#061c28" stroke-width="1.0"/>
<circle cx="463.34" cy="152.71" r="2.0" fill="#3e9cc6" stroke="#061c28" stroke-width="1.0"/>
<circle cx="439.63" cy="163.59" r="2.0" fill="#3e9cc6" stroke="#061c28" stroke-width="1.0"/>
<circle cx="447.62" cy="163.85" r="2.0" fill="#3e9cc6" stroke="#061c28" stroke-width="1.0"/>
<circle cx="466.56" cy="163.49" r="2.0" fill="#3e9cc6" stroke="#061c28" stroke-width="1.0"/>
<circle cx="469.46" cy="163.78" r="2.0" fill="#3e9cc6" stroke="#061c28" stroke-width="1.0"/>
<circle cx="442.00" cy="161.94" r="2.0" fill="#3e9cc6" stroke="#061c28" stroke-width="1.0"/>
<circle cx="464.25" cy="158.88" r="2.0" fill="#3e9cc6" stroke="#061c28" stroke-width="1.0"/>
<circle cx="472.19" cy="155.12" r="2.0" fill="#3e9cc6" stroke="#061c28" stroke-width="1.0"/>
<circle cx="473.33" cy="163.55" r="2.0" fill="#3e9cc6" stroke="#061c28" stroke-width="1.0"/>
<circle cx="462.16" cy="165.38" r="2.0" fill="#3e9cc6" stroke="#061c28" stroke-width="1.0"/>
<circle cx="441.84" cy="156.16" r="2.0" fill="#3e9cc6" stroke="#061c28" stroke-width="1.0"/>
<circle cx="464.97" cy="153.52" r="2.0" fill="#3e9cc6" stroke="#061c28" stroke-width="1.0"/>
<circle cx="469.65" cy="159.35" r="2.0" fill="#3e9cc6" stroke="#061c28" stroke-width="1.0"/>
<circle cx="441.13" cy="157.19" r="2.0" fill="#3e9cc6" stroke="#061c28" stroke-width="1.0"/>
<circle cx="459.47" cy="158.48" r="2.0" fill="#3e9cc6" stroke="#061c28" stroke-width="1.0"/>
<circle cx="463.10" cy="153.14" r="2.0" fill="#3e9cc6" stroke="#061c28" stroke-width="1.0"/>
<circle cx="467.39" cy="157.11" r="2.0" fill="#3e9cc6" stroke="#061c28" stroke-width="1.0"/>
<circle cx="461.96" cy="161.96" r="2.0" fill="#3e9cc6" stroke="#061c28" stroke-width="1.0"/>
<circle cx="453.88" cy="157.52" r="2.0" fill="#3e9cc6" stroke="#061c28" stroke-width="1.0"/>
<circle cx="466.99" cy="167.70" r="2.0" fill="#3e9cc6" stroke="#061c28" stroke-width="1.0"/>
<circle cx="466.93" cy="160.82" r="2.0" fill="#3e9cc6" stroke="#061c28" stroke-width="1.0"/>
<circle cx="473.67" cy="163.30" r="2.0" fill="#3e9cc6" stroke="#061c28" stroke-width="1.0"/>
<circle cx="468.46" cy="156.54" r="2.0" fill="#3e9cc6" stroke="#061c28" stroke-width="1.0"/>
<circle cx="460.57" cy="168.29" r="2.0" fill="#3e9cc6" stroke="#061c28" stroke-width="1.0"/>
<circle cx="468.59" cy="161.44" r="2.0" fill="#3e9cc6" stroke="#061c28" stroke-width="1.0"/>
<circle cx="449.99" cy="158.30" r="2.0" fill="#3e9cc6" stroke="#061c28" stroke-width="1.0"/>
<circle cx="470.62" cy="157.36" r="2.0" fill="#3e9cc6" stroke="#061c28" stroke-width="1.0"/>
<circle cx="463.38" cy="161.45" r="2.0" fill="#3e9cc6" stroke="#061c28" stroke-width="1.0"/>
<circle cx="470.90" cy="165.20" r="2.0" fill="#3e9cc6" stroke="#061c28" stroke-width="1.0"/>
<circle cx="448.36" cy="158.19" r="2.0" fill="#3e9cc6" stroke="#061c28" stroke-width="1.0"/>
<circle cx="459.88" cy="165.35" r="2.0" fill="#3e9cc6" stroke="#061c28" stroke-width="1.0"/>
<circle cx="468.66" cy="165.27" r="2.0" fill="#3e9cc6" stroke="#061c28" stroke-width="1.0"/>
<circle cx="469.87" cy="160.91" r="2.0" fill="#3e9cc6" stroke="#061c28" stroke-width="1.0"/>
<circle cx="448.75" cy="165.99" r="2.0" fill="#3e9cc6" stroke="#061c28" stroke-width="1.0"/>
<circle cx="467.73" cy="162.96" r="2.0" fill="#3e9cc6" stroke="#061c28" stroke-width="1.0"/>
<circle cx="471.53" cy="156.81" r="2.0" fill="#3e9cc6" stroke="#061c28" stroke-width="1.0"/>
<circle cx="442.03" cy="160.58" r="2.0" fill="#3e9cc6" stroke="#061c28" stroke-width="1.0"/>
<circle cx="467.39" cy="154.15" r="2.0" fill="#3e9cc6" stroke="#061c28" stroke-width="1.0"/>
<circle cx="465.71" cy="167.46" r="2.0" fill="#3e9cc6" stroke="#061c28" stroke-width="1.0"/>
<circle cx="447.33" cy="161.55" r="2.0" fill="#3e9cc6" stroke="#061c28" stroke-width="1.0"/>
<circle cx="463.12" cy="158.97" r="2.0" fill="#3e9cc6" stroke="#061c28" stroke-width="1.0"/>
<circle cx="446.35" cy="155.14" r="2.0" fill="#3e9cc6" stroke="#061c28" stroke-width="1.0"/>
<circle cx="465.74" cy="164.91" r="2.0" fill="#3e9cc6" stroke="#061c28" stroke-width="1.0"/>
<circle cx="467.71" cy="164.55" r="2.0" fill="#3e9cc6" stroke="#061c28" stroke-width="1.0"/>
<circle cx="447.29" cy="161.05" r="2.0" fill="#3e9cc6" stroke="#061c28" stroke-width="1.0"/>
<circle cx="470.93" cy="166.61" r="2.0" fill="#3e9cc6" stroke="#061c28" stroke-width="1.0"/>
<circle cx="457.58" cy="159.17" r="2.0" fill="#3e9cc6" stroke="#061c28" stroke-width="1.0"/>
<circle cx="459.98" cy="153.94" r="2.0" fill="#3e9cc6" stroke="#061c28" stroke-width="1.0"/>
<circle cx="445.85" cy="153.79" r="2.0" fill="#3e9cc6" stroke="#061c28" stroke-width="1.0"/>
<circle cx="463.96" cy="157.10" r="2.0" fill="#3e9cc6" stroke="#061c28" stroke-width="1.0"/>
<circle cx="459.09" cy="157.83" r="2.0" fill="#3e9cc6" stroke="#061c28" stroke-width="1.0"/>
<circle cx="457.41" cy="153.21" r="2.0" fill="#3e9cc6" stroke="#061c28" stroke-width="1.0"/>
<circle cx="440.59" cy="168.65" r="2.0" fill="#3e9cc6" stroke="#061c28" stroke-width="1.0"/>
<circle cx="461.53" cy="164.83" r="2.0" fill="#3e9cc6" stroke="#061c28" stroke-width="1.0"/>
<circle cx="444.56" cy="161.37" r="2.0" fill="#3e9cc6" stroke="#061c28" stroke-width="1.0"/>
<circle cx="451.28" cy="159.95" r="2.0" fill="#3e9cc6" stroke="#061c28" stroke-width="1.0"/>
<circle cx="474.26" cy="166.26" r="2.0" fill="#3e9cc6" stroke="#061c28" stroke-width="1.0"/>
<circle cx="456.31" cy="160.82" r="2.0" fill="#3e9cc6" stroke="#061c28" stroke-width="1.0"/>
<circle cx="448.31" cy="164.68" r="2.0" fill="#3e9cc6" stroke="#061c28" stroke-width="1.0"/>
<circle cx="454.16" cy="167.73" r="2.0" fill="#3e9cc6" stroke="#061c28" stroke-width="1.0"/>
<circle cx="466.31" cy="165.40" r="2.0" fill="#3e9cc6" stroke="#061c28" stroke-width="1.0"/>
<circle cx="473.30" cy="155.12" r="2.0" fill="#3e9cc6" stroke="#061c28" stroke-width="1.0"/>
<circle cx="440.82" cy="160.64" r="2.0" fill="#3e9cc6" stroke="#061c28" stroke-width="1.0"/>
<circle cx="470.00" cy="158.84" r="2.0" fill="#3e9cc6" stroke="#061c28" stroke-width="1.0"/>
<circle cx="472.72" cy="167.06" r="2.0" fill="#3e9cc6" stroke="#061c28" stroke-width="1.0"/>
<circle cx="441.29" cy="161.38" r="2.0" fill="#3e9cc6" stroke="#061c28" stroke-width="1.0"/>
<circle cx="453.15" cy="152.68" r="2.0" fill="#3e9cc6" stroke="#061c28" stroke-width="1.0"/>
<circle cx="473.15" cy="155.18" r="2.0" fill="#3e9cc6" stroke="#061c28" stroke-width="1.0"/>
<circle cx="459.10" cy="162.16" r="2.0" fill="#3e9cc6" stroke="#061c28" stroke-width="1.0"/>
<circle cx="473.05" cy="162.69" r="2.0" fill="#3e9cc6" stroke="#061c28" stroke-width="1.0"/>
<circle cx="453.00" cy="158.66" r="2.0" fill="#3e9cc6" stroke="#061c28" stroke-width="1.0"/>
<circle cx="444.69" cy="168.08" r="2.0" fill="#3e9cc6" stroke="#061c28" stroke-width="1.0"/>
<circle cx="451.53" cy="166.93" r="2.0" fill="#3e9cc6" stroke="#061c28" stroke-width="1.0"/>
<circle cx="471.20" cy="165.74" r="2.0" fill="#3e9cc6" stroke="#061c28" stroke-width="1.0"/>
<circle cx="440.67" cy="164.81" r="2.0" fill="#3e9cc6" stroke="#061c28" stroke-width="1.0"/>
<circle cx="464.26" cy="162.27" r="2.0" fill="#3e9cc6" stroke="#061c28" stroke-width="1.0"/>
<circle cx="444.15" cy="164.24" r="2.0" fill="#3e9cc6" stroke="#061c28" stroke-width="1.0"/>
<circle cx="472.44" cy="162.82" r="2.0" fill="#3e9cc6" stroke="#061c28" stroke-width="1.0"/>
<circle cx="449.64" cy="161.26" r="2.0" fill="#3e9cc6" stroke="#061c28" stroke-width="1.0"/>
<circle cx="450.53" cy="155.18" r="2.0" fill="#3e9cc6" stroke="#061c28" stroke-width="1.0"/>
<circle cx="443.42" cy="159.26" r="2.0" fill="#3e9cc6" stroke="#061c28" stroke-width="1.0"/>
<circle cx="445.00" cy="154.84" r="2.0" fill="#3e9cc6" stroke="#061c28" stroke-width="1.0"/>
<circle cx="444.10" cy="162.83" r="2.0" fill="#3e9cc6" stroke="#061c28" stroke-width="1.0"/>
<circle cx="439.45" cy="163.55" r="2.0" fill="#3e9cc6" stroke="#061c28" stroke-width="1.0"/>
<circle cx="472.03" cy="154.51" r="2.0" fill="#3e9cc6" stroke="#061c28" stroke-width="1.0"/>
<circle cx="472.25" cy="166.27" r="2.0" fill="#3e9cc6" stroke="#061c28" stroke-width="1.0"/>
<circle cx="472.06" cy="165.83" r="2.0" fill="#3e9cc6" stroke="#061c28" stroke-width="1.0"/>
<circle cx="461.37" cy="158.73" r="2.0" fill="#3e9cc6" stroke="#061c28" stroke-width="1.0"/>
<circle cx="451.10" cy="165.48" r="2.0" fill="#3e9cc6" stroke="#061c28" stroke-width="1.0"/>
<circle cx="456.00" cy="161.93" r="2.0" fill="#3e9cc6" stroke="#061c28" stroke-width="1.0"/>
<circle cx="444.08" cy="154.53" r="2.0" fill="#3e9cc6" stroke="#061c28" stroke-width="1.0"/>
<circle cx="441.02" cy="163.49" r="2.0" fill="#3e9cc6" stroke="#061c28" stroke-width="1.0"/>
<circle cx="458.70" cy="153.13" r="2.0" fill="#3e9cc6" stroke="#061c28" stroke-width="1.0"/>
<circle cx="470.00" cy="155.35" r="2.0" fill="#3e9cc6" stroke="#061c28" stroke-width="1.0"/>
<circle cx="453.66" cy="153.33" r="2.0" fill="#3e9cc6" stroke="#061c28" stroke-width="1.0"/>
<circle cx="448.65" cy="165.78" r="2.0" fill="#3e9cc6" stroke="#061c28" stroke-width="1.0"/>
<circle cx="450.91" cy="153.55" r="2.0" fill="#3e9cc6" stroke="#061c28" stroke-width="1.0"/>
<circle cx="456.48" cy="156.29" r="2.0" fill="#3e9cc6" stroke="#061c28" stroke-width="1.0"/>
<circle cx="470.86" cy="162.66" r="2.0" fill="#3e9cc6" stroke="#061c28" stroke-width="1.0"/>
<circle cx="446.52" cy="159.19" r="2.0" fill="#3e9cc6" stroke="#061c28" stroke-width="1.0"/>
<circle cx="449.19" cy="155.19" r="2.0" fill="#3e9cc6" stroke="#061c28" stroke-width="1.0"/>
<circle cx="446.18" cy="157.13" r="2.0" fill="#3e9cc6" stroke="#061c28" stroke-width="1.0"/>
<circle cx="474.28" cy="168.67" r="2.0" fill="#3e9cc6" stroke="#061c28" stroke-width="1.0"/>
<circle cx="449.30" cy="166.81" r="2.0" fill="#3e9cc6" stroke="#061c28" stroke-width="1.0"/>
<circle cx="441.05" cy="163.72" r="2.0" fill="#3e9cc6" stroke="#061c28" stroke-width="1.0"/>
<circle cx="449.45" cy="168.31" r="2.0" fill="#3e9cc6" stroke="#061c28" stroke-width="1.0"/>
<circle cx="439.57" cy="165.19" r="2.0" fill="#3e9cc6" stroke="#061c28" stroke-width="1.0"/>
<circle cx="451.14" cy="153.05" r="2.0" fill="#3e9cc6" stroke="#061c28" stroke-width="1.0"/>
<circle cx="439.07" cy="165.65" r="2.0" fill="#3e9cc6" stroke="#061c28" stroke-width="1.0"/>
<circle cx="457.75" cy="153.88" r="2.0" fill="#3e9cc6" stroke="#061c28" stroke-width="1.0"/>
<circle cx="454.49" cy="167.10" r="2.0" fill="#3e9cc6" stroke="#061c28" stroke-width="1.0"/>
<circle cx="446.77" cy="160.90" r="2.0" fill="#3e9cc6" stroke="#061c28" stroke-width="1.0"/>
<circle cx="466.43" cy="163.45" r="2.0" fill="#3e9cc6" stroke="#061c28" stroke-width="1.0"/>
<circle cx="442.11" cy="161.58" r="2.0" fill="#3e9cc6" stroke="#061c28" stroke-width="1.0"/>
<circle cx="456.64" cy="155.48" r="2.0" fill="#3e9cc6" stroke="#061c28" stroke-width="1.0"/>
<circle cx="446.33" cy="161.65" r="2.0" fill="#3e9cc6" stroke="#061c28" stroke-width="1.0"/>
<circle cx="464.20" cy="165.27" r="2.0" fill="#3e9cc6" stroke="#061c28" stroke-width="1.0"/>
<circle cx="459.75" cy="154.18" r="2.0" fill="#3e9cc6" stroke="#061c28" stroke-width="1.0"/>
<circle cx="441.34" cy="163.84" r="2.0" fill="#3e9cc6" stroke="#061c28" stroke-width="1.0"/>
<circle cx="453.53" cy="163.63" r="2.0" fill="#3e9cc6" stroke="#061c28" stroke-width="1.0"/>
<circle cx="440.97" cy="165.25" r="2.0" fill="#3e9cc6" stroke="#061c28" stroke-width="1.0"/>
<circle cx="450.93" cy="165.82" r="2.0" fill="#3e9cc6" stroke="#061c28" stroke-width="1.0"/>
<circle cx="469.78" cy="159.47" r="2.0" fill="#3e9cc6" stroke="#061c28" stroke-width="1.0"/>
<circle cx="439.55" cy="167.07" r="2.0" fill="#3e9cc6" stroke="#061c28" stroke-width="1.0"/>
<circle cx="455.97" cy="166.37" r="2.0" fill="#3e9cc6" stroke="#061c28" stroke-width="1.0"/>
<circle cx="448.48" cy="153.89" r="2.0" fill="#3e9cc6" stroke="#061c28" stroke-width="1.0"/>
<circle cx="468.61" cy="157.18" r="2.0" fill="#3e9cc6" stroke="#061c28" stroke-width="1.0"/>
<circle cx="444.82" cy="157.26" r="2.0" fill="#3e9cc6" stroke="#061c28" stroke-width="1.0"/>
<circle cx="457.51" cy="158.61" r="2.0" fill="#3e9cc6" stroke="#061c28" stroke-width="1.0"/>
<circle cx="457.36" cy="152.70" r="2.0" fill="#3e9cc6" stroke="#061c28" stroke-width="1.0"/>
<circle cx="464.44" cy="165.36" r="2.0" fill="#3e9cc6" stroke="#061c28" stroke-width="1.0"/>
<circle cx="469.81" cy="156.34" r="2.0" fill="#3e9cc6" stroke="#061c28" stroke-width="1.0"/>
<circle cx="464.32" cy="157.44" r="2.0" fill="#3e9cc6" stroke="#061c28" stroke-width="1.0"/>
<circle cx="470.07" cy="167.86" r="2.0" fill="#3e9cc6" stroke="#061c28" stroke-width="1.0"/>
<circle cx="456.62" cy="159.84" r="2.0" fill="#3e9cc6" stroke="#061c28" stroke-width="1.0"/>
<circle cx="457.89" cy="160.28" r="2.0" fill="#3e9cc6" stroke="#061c28" stroke-width="1.0"/>
<circle cx="439.74" cy="168.11" r="2.0" fill="#3e9cc6" stroke="#061c28" stroke-width="1.0"/>
<circle cx="446.96" cy="153.82" r="2.0" fill="#3e9cc6" stroke="#061c28" stroke-width="1.0"/>
<circle cx="442.66" cy="155.06" r="2.0" fill="#3e9cc6" stroke="#061c28" stroke-width="1.0"/>
<circle cx="442.43" cy="163.22" r="2.0" fill="#3e9cc6" stroke="#061c28" stroke-width="1.0"/>
<circle cx="460.34" cy="160.99" r="2.0" fill="#3e9cc6" stroke="#061c28" stroke-width="1.0"/>
<circle cx="457.62" cy="163.29" r="2.0" fill="#3e9cc6" stroke="#061c28" stroke-width="1.0"/>
<circle cx="442.66" cy="166.33" r="2.0" fill="#3e9cc6" stroke="#061c28" stroke-width="1.0"/>
<circle cx="443.38" cy="159.48" r="2.0" fill="#3e9cc6" stroke="#061c28" stroke-width="1.0"/>
<circle cx="456.83" cy="155.59" r="2.0" fill="#3e9cc6" stroke="#061c28" stroke-width="1.0"/>
<circle cx="443.34" cy="157.88" r="2.0" fill="#3e9cc6" stroke="#061c28" stroke-width="1.0"/>
<circle cx="443.88" cy="161.27" r="2.0" fill="#3e9cc6" stroke="#061c28" stroke-width="1.0"/>
<circle cx="459.39" cy="164.09" r="2.0" fill="#3e9cc6" stroke="#061c28" stroke-width="1.0"/>
<circle cx="444.85" cy="165.53" r="2.0" fill="#3e9cc6" stroke="#061c28" stroke-width="1.0"/>
<circle cx="472.38" cy="157.58" r="2.0" fill="#3e9cc6" stroke="#061c28" stroke-width="1.0"/>
<circle cx="453.97" cy="165.78" r="2.0" fill="#3e9cc6" stroke="#061c28" stroke-width="1.0"/>
<circle cx="457.71" cy="157.70" r="2.0" fill="#3e9cc6" stroke="#061c28" stroke-width="1.0"/>
<circle cx="472.51" cy="164.64" r="2.0" fill="#3e9cc6" stroke="#061c28" stroke-width="1.0"/>
<circle cx="451.05" cy="154.87" r="2.0" fill="#3e9cc6" stroke="#061c28" stroke-width="1.0"/>
<circle cx="450.93" cy="158.43" r="2.0" fill="#3e9cc6" stroke="#061c28" stroke-width="1.0"/>
<circle cx="473.93" cy="165.14" r="2.0" fill="#3e9cc6" stroke="#061c28" stroke-width="1.0"/>
<circle cx="471.49" cy="165.33" r="2.0" fill="#3e9cc6" stroke="#061c28" stroke-width="1.0"/>
<circle cx="457.42" cy="167.93" r="2.0" fill="#3e9cc6" stroke="#061c28" stroke-width="1.0"/>
<circle cx="472.26" cy="155.04" r="2.0" fill="#3e9cc6" stroke="#061c28" stroke-width="1.0"/>
<circle cx="454.03" cy="162.01" r="2.0" fill="#3e9cc6" stroke="#061c28" stroke-width="1.0"/>
<circle cx="451.97" cy="160.16" r="2.0" fill="#3e9cc6" stroke="#061c28" stroke-width="1.0"/>
<circle cx="441.47" cy="158.38" r="2.0" fill="#3e9cc6" stroke="#061c28" stroke-width="1.0"/>
<circle cx="443.96" cy="168.15" r="2.0" fill="#3e9cc6" stroke="#061c28" stroke-width="1.0"/>
<circle cx="466.65" cy="167.55" r="2.0" fill="#3e9cc6" stroke="#061c28" stroke-width="1.0"/>
<circle cx="461.54" cy="165.23" r="2.0" fill="#3e9cc6" stroke="#061c28" stroke-width="1.0"/>
<circle cx="470.48" cy="166.60" r="2.0" fill="#3e9cc6" stroke="#061c28" stroke-width="1.0"/>
<circle cx="440.22" cy="162.18" r="2.0" fill="#3e9cc6" stroke="#061c28" stroke-width="1.0"/>
<circle cx="448.46" cy="162.85" r="2.0" fill="#3e9cc6" stroke="#061c28" stroke-width="1.0"/>
<circle cx="448.73" cy="160.37" r="2.0" fill="#3e9cc6" stroke="#061c28" stroke-width="1.0"/>
<circle cx="471.91" cy="161.81" r="2.0" fill="#3e9cc6" stroke="#061c28" stroke-width="1.0"/>
<circle cx="447.92" cy="159.97" r="2.0" fill="#3e9cc6" stroke="#061c28" stroke-width="1.0"/>
<circle cx="454.44" cy="167.81" r="2.0" fill="#3e9cc6" stroke="#061c28" stroke-width="1.0"/>
<circle cx="449.24" cy="156.06" r="2.0" fill="#3e9cc6" stroke="#061c28" stroke-width="1.0"/>
<circle cx="462.05" cy="152.69" r="2.0" fill="#3e9cc6" stroke="#061c28" stroke-width="1.0"/>
<circle cx="460.16" cy="167.90" r="2.0" fill="#3e9cc6" stroke="#061c28" stroke-width="1.0"/>
<circle cx="457.29" cy="155.39" r="2.0" fill="#3e9cc6" stroke="#061c28" stroke-width="1.0"/>
<circle cx="455.60" cy="160.22" r="2.0" fill="#3e9cc6" stroke="#061c28" stroke-width="1.0"/>
<circle cx="443.68" cy="155.84" r="2.0" fill="#3e9cc6" stroke="#061c28" stroke-width="1.0"/>
<circle cx="453.47" cy="155.75" r="2.0" fill="#3e9cc6" stroke="#061c28" stroke-width="1.0"/>
<circle cx="458.45" cy="165.78" r="2.0" fill="#3e9cc6" stroke="#061c28" stroke-width="1.0"/>
<circle cx="460.71" cy="160.88" r="2.0" fill="#3e9cc6" stroke="#061c28" stroke-width="1.0"/>
<circle cx="462.15" cy="154.16" r="2.0" fill="#3e9cc6" stroke="#061c28" stroke-width="1.0"/>
<circle cx="464.29" cy="158.89" r="2.0" fill="#3e9cc6" stroke="#061c28" stroke-width="1.0"/>
<circle cx="458.51" cy="161.65" r="2.0" fill="#3e9cc6" stroke="#061c28" stroke-width="1.0"/>
<circle cx="455.70" cy="156.15" r="2.0" fill="#3e9cc6" stroke="#061c28" stroke-width="1.0"/>
<circle cx="447.62" cy="154.53" r="2.0" fill="#3e9cc6" stroke="#061c28" stroke-width="1.0"/>
<circle cx="457.24" cy="157.47" r="2.0" fill="#3e9cc6" stroke="#061c28" stroke-width="1.0"/>
<circle cx="451.55" cy="166.19" r="2.0" fill="#3e9cc6" stroke="#061c28" stroke-width="1.0"/>
<circle cx="447.49" cy="160.63" r="2.0" fill="#3e9cc6" stroke="#061c28" stroke-width="1.0"/>
<circle cx="456.49" cy="155.68" r="2.0" fill="#3e9cc6" stroke="#061c28" stroke-width="1.0"/>
<circle cx="474.16" cy="155.88" r="2.0" fill="#3e9cc6" stroke="#061c28" stroke-width="1.0"/>
<circle cx="466.49" cy="153.39" r="2.0" fill="#3e9cc6" stroke="#061c28" stroke-width="1.0"/>
<circle cx="441.38" cy="166.36" r="2.0" fill="#3e9cc6" stroke="#061c28" stroke-width="1.0"/>
<circle cx="452.81" cy="158.51" r="2.0" fill="#3e9cc6" stroke="#061c28" stroke-width="1.0"/>
<circle cx="447.02" cy="167.96" r="2.0" fill="#3e9cc6" stroke="#061c28" stroke-width="1.0"/>
<circle cx="465.30" cy="153.31" r="2.0" fill="#3e9cc6" stroke="#061c28" stroke-width="1.0"/>
<circle cx="451.00" cy="156.91" r="2.0" fill="#3e9cc6" stroke="#061c28" stroke-width="1.0"/>
<circle cx="463.04" cy="161.72" r="2.0" fill="#3e9cc6" stroke="#061c28" stroke-width="1.0"/>
<circle cx="469.26" cy="165.45" r="2.0" fill="#3e9cc6" stroke="#061c28" stroke-width="1.0"/>
<circle cx="457.43" cy="163.95" r="2.0" fill="#3e9cc6" stroke="#061c28" stroke-width="1.0"/>
<circle cx="465.46" cy="164.33" r="2.0" fill="#3e9cc6" stroke="#061c28" stroke-width="1.0"/>
<circle cx="455.92" cy="164.79" r="2.0" fill="#3e9cc6" stroke="#061c28" stroke-width="1.0"/>
<circle cx="464.22" cy="167.15" r="2.0" fill="#3e9cc6" stroke="#061c28" stroke-width="1.0"/>
<circle cx="443.53" cy="166.35" r="2.0" fill="#3e9cc6" stroke="#061c28" stroke-width="1.0"/>
<circle cx="439.15" cy="164.44" r="2.0" fill="#3e9cc6" stroke="#061c28" stroke-width="1.0"/>
<circle cx="459.86" cy="159.56" r="2.0" fill="#3e9cc6" stroke="#061c28" stroke-width="1.0"/>
<circle cx="473.27" cy="160.91" r="2.0" fill="#3e9cc6" stroke="#061c28" stroke-width="1.0"/>
<circle cx="453.88" cy="164.76" r="2.0" fill="#3e9cc6" stroke="#061c28" stroke-width="1.0"/>
<circle cx="470.07" cy="161.55" r="2.0" fill="#3e9cc6" stroke="#061c28" stroke-width="1.0"/>
<circle cx="452.51" cy="158.73" r="2.0" fill="#3e9cc6" stroke="#061c28" stroke-width="1.0"/>
<circle cx="455.30" cy="163.66" r="2.0" fill="#3e9cc6" stroke="#061c28" stroke-width="1.0"/>
<circle cx="449.43" cy="157.61" r="2.0" fill="#3e9cc6" stroke="#061c28" stroke-width="1.0"/>
<circle cx="458.77" cy="157.50" r="2.0" fill="#3e9cc6" stroke="#061c28" stroke-width="1.0"/>
<circle cx="450.46" cy="164.82" r="2.0" fill="#3e9cc6" stroke="#061c28" stroke-width="1.0"/>
<circle cx="469.24" cy="159.59" r="2.0" fill="#3e9cc6" stroke="#061c28" stroke-width="1.0"/>
<circle cx="454.81" cy="153.85" r="2.0" fill="#3e9cc6" stroke="#061c28" stroke-width="1.0"/>
<circle cx="449.82" cy="153.14" r="2.0" fill="#3e9cc6" stroke="#061c28" stroke-width="1.0"/>
<circle cx="459.49" cy="161.08" r="2.0" fill="#3e9cc6" stroke="#061c28" stroke-width="1.0"/>
<circle cx="442.13" cy="167.25" r="2.0" fill="#3e9cc6" stroke="#061c28" stroke-width="1.0"/>
<circle cx="450.53" cy="165.85" r="2.0" fill="#3e9cc6" stroke="#061c28" stroke-width="1.0"/>
<circle cx="468.84" cy="167.95" r="2.0" fill="#3e9cc6" stroke="#061c28" stroke-width="1.0"/>
<circle cx="446.27" cy="158.26" r="2.0" fill="#3e9cc6" stroke="#061c28" stroke-width="1.0"/>
<circle cx="440.69" cy="160.78" r="2.0" fill="#3e9cc6" stroke="#061c28" stroke-width="1.0"/>
<circle cx="456.71" cy="167.25" r="2.0" fill="#3e9cc6" stroke="#061c28" stroke-width="1.0"/>
<circle cx="466.54" cy="160.30" r="2.0" fill="#3e9cc6" stroke="#061c28" stroke-width="1.0"/>
<circle cx="474.54" cy="159.92" r="2.0" fill="#3e9cc6" stroke="#061c28" stroke-width="1.0"/>
<circle cx="457.41" cy="162.97" r="2.0" fill="#3e9cc6" stroke="#061c28" stroke-width="1.0"/>
<circle cx="452.87" cy="157.01" r="2.0" fill="#3e9cc6" stroke="#061c28" stroke-width="1.0"/>
<circle cx="460.17" cy="156.89" r="2.0" fill="#3e9cc6" stroke="#061c28" stroke-width="1.0"/>
<circle cx="472.75" cy="162.81" r="2.0" fill="#3e9cc6" stroke="#061c28" stroke-width="1.0"/>
<circle cx="457.70" cy="152.30" r="2.0" fill="#3e9cc6" stroke="#061c28" stroke-width="1.0"/>
<circle cx="452.33" cy="157.80" r="2.0" fill="#3e9cc6" stroke="#061c28" stroke-width="1.0"/>
<circle cx="458.98" cy="160.95" r="2.0" fill="#3e9cc6" stroke="#061c28" stroke-width="1.0"/>
<circle cx="470.32" cy="168.05" r="2.0" fill="#3e9cc6" stroke="#061c28" stroke-width="1.0"/>
<circle cx="456.33" cy="158.51" r="2.0" fill="#3e9cc6" stroke="#061c28" stroke-width="1.0"/>
<circle cx="461.24" cy="168.63" r="2.0" fill="#3e9cc6" stroke="#061c28" stroke-width="1.0"/>
<circle cx="451.22" cy="160.15" r="2.0" fill="#3e9cc6" stroke="#061c28" stroke-width="1.0"/>
<circle cx="468.05" cy="153.61" r="2.0" fill="#3e9cc6" stroke="#061c28" stroke-width="1.0"/>
<circle cx="450.32" cy="168.31" r="2.0" fill="#3e9cc6" stroke="#061c28" stroke-width="1.0"/>
<circle cx="468.41" cy="159.83" r="2.0" fill="#3e9cc6" stroke="#061c28" stroke-width="1.0"/>
<circle cx="442.93" cy="166.78" r="2.0" fill="#3e9cc6" stroke="#061c28" stroke-width="1.0"/>
<circle cx="463.56" cy="165.43" r="2.0" fill="#3e9cc6" stroke="#061c28" stroke-width="1.0"/>
<circle cx="474.25" cy="166.66" r="2.0" fill="#3e9cc6" stroke="#061c28" stroke-width="1.0"/>
<circle cx="453.98" cy="153.35" r="2.0" fill="#3e9cc6" stroke="#061c28" stroke-width="1.0"/>
<circle cx="449.32" cy="159.81" r="2.0" fill="#3e9cc6" stroke="#061c28" stroke-width="1.0"/>
<circle cx="456.97" cy="153.92" r="2.0" fill="#3e9cc6" stroke="#061c28" stroke-width="1.0"/>
<circle cx="445.49" cy="161.97" r="2.0" fill="#3e9cc6" stroke="#061c28" stroke-width="1.0"/>
<circle cx="460.47" cy="156.93" r="2.0" fill="#3e9cc6" stroke="#061c28" stroke-width="1.0"/>
<circle cx="474.38" cy="162.08" r="2.0" fill="#3e9cc6" stroke="#061c28" stroke-width="1.0"/>
<circle cx="440.51" cy="157.99" r="2.0" fill="#3e9cc6" stroke="#061c28" stroke-width="1.0"/>
<circle cx="467.04" cy="156.08" r="2.0" fill="#3e9cc6" stroke="#061c28" stroke-width="1.0"/>
<circle cx="449.84" cy="165.83" r="2.0" fill="#3e9cc6" stroke="#061c28" stroke-width="1.0"/>
<circle cx="459.87" cy="162.66" r="2.0" fill="#3e9cc6" stroke="#061c28" stroke-width="1.0"/>
<circle cx="446.00" cy="159.56" r="2.0" fill="#3e9cc6" stroke="#061c28" stroke-width="1.0"/>
<circle cx="458.70" cy="155.34" r="2.0" fill="#3e9cc6" stroke="#061c28" stroke-width="1.0"/>
<circle cx="462.03" cy="160.17" r="2.0" fill="#3e9cc6" stroke="#061c28" stroke-width="1.0"/>
<circle cx="474.50" cy="160.96" r="2.0" fill="#3e9cc6" stroke="#061c28" stroke-width="1.0"/>
<circle cx="453.64" cy="152.71" r="2.0" fill="#3e9cc6" stroke="#061c28" stroke-width="1.0"/>
<circle cx="444.58" cy="164.32" r="2.0" fill="#3e9cc6" stroke="#061c28" stroke-width="1.0"/>
<circle cx="445.07" cy="160.01" r="2.0" fill="#3e9cc6" stroke="#061c28" stroke-width="1.0"/>
<circle cx="468.30" cy="161.66" r="2.0" fill="#3e9cc6" stroke="#061c28" stroke-width="1.0"/>
<circle cx="439.44" cy="164.52" r="2.0" fill="#3e9cc6" stroke="#061c28" stroke-width="1.0"/>
<circle cx="450.49" cy="163.52" r="2.0" fill="#3e9cc6" stroke="#061c28" stroke-width="1.0"/>
<circle cx="451.60" cy="153.58" r="2.0" fill="#3e9cc6" stroke="#061c28" stroke-width="1.0"/>
<circle cx="471.18" cy="161.10" r="2.0" fill="#3e9cc6" stroke="#061c28" stroke-width="1.0"/>
<circle cx="451.42" cy="158.69" r="2.0" fill="#3e9cc6" stroke="#061c28" stroke-width="1.0"/>
<circle cx="470.70" cy="161.10" r="2.0" fill="#3e9cc6" stroke="#061c28" stroke-width="1.0"/>
<circle cx="473.16" cy="158.50" r="2.0" fill="#3e9cc6" stroke="#061c28" stroke-width="1.0"/>
<circle cx="461.08" cy="155.04" r="2.0" fill="#3e9cc6" stroke="#061c28" stroke-width="1.0"/>
<circle cx="440.57" cy="167.44" r="2.0" fill="#3e9cc6" stroke="#061c28" stroke-width="1.0"/>
<circle cx="469.43" cy="156.23" r="2.0" fill="#3e9cc6" stroke="#061c28" stroke-width="1.0"/>
<circle cx="471.00" cy="165.35" r="2.0" fill="#3e9cc6" stroke="#061c28" stroke-width="1.0"/>
<circle cx="449.81" cy="161.47" r="2.0" fill="#3e9cc6" stroke="#061c28" stroke-width="1.0"/>
<line x1="52.80" y1="248.20" x2="52.80" y2="393.90" stroke="#1a1a1a" stroke-width="1.15" />
<line x1="52.25" y1="393.35" x2="201.30" y2="393.35" stroke="#141414" stroke-width="1.3" />
<line x1="49.60" y1="368.00" x2="52.80" y2="368.00" stroke="#1a1a1a" stroke-width="1.0" />
<text x="41.91" y="370.75" font-size="8.2" fill="#222222" textLength="4.67" lengthAdjust="spacingAndGlyphs" stroke="#222222" stroke-width="0.07">1</text>
<line x1="49.60" y1="342.80" x2="52.80" y2="342.80" stroke="#1a1a1a" stroke-width="1.0" />
<text x="41.96" y="345.55" font-size="8.2" fill="#222222" textLength="4.67" lengthAdjust="spacingAndGlyphs" stroke="#222222" stroke-width="0.07">2</text>
<line x1="49.60" y1="317.60" x2="52.80" y2="317.60" stroke="#1a1a1a" stroke-width="1.0" />
<text x="41.87" y="320.35" font-size="8.2" fill="#222222" textLength="4.67" lengthAdjust="spacingAndGlyphs" stroke="#222222" stroke-width="0.07">3</text>
<line x1="49.60" y1="292.40" x2="52.80" y2="292.40" stroke="#1a1a1a" stroke-width="1.0" />
<text x="41.79" y="295.15" font-size="8.2" fill="#222222" textLength="4.67" lengthAdjust="spacingAndGlyphs" stroke="#222222" stroke-width="0.07">4</text>
<line x1="49.60" y1="267.20" x2="52.80" y2="267.20" stroke="#1a1a1a" stroke-width="1.0" />
<text x="41.87" y="269.95" font-size="8.2" fill="#222222" textLength="4.67" lengthAdjust="spacingAndGlyphs" stroke="#222222" stroke-width="0.07">5</text>
<line x1="80.40" y1="393.35" x2="80.40" y2="396.55" stroke="#1a1a1a" stroke-width="1.0" />
<text x="73.81" y="407.30" font-size="8.2" fill="#222222" textLength="14.22" lengthAdjust="spacingAndGlyphs" stroke="#222222" stroke-width="0.07">CH</text>
<line x1="126.70" y1="393.35" x2="126.70" y2="396.55" stroke="#1a1a1a" stroke-width="1.0" />
<text x="116.16" y="407.30" font-size="8.2" fill="#222222" textLength="21.27" lengthAdjust="spacingAndGlyphs" stroke="#222222" stroke-width="0.07">Driver</text>
<line x1="173.30" y1="393.35" x2="173.30" y2="396.55" stroke="#1a1a1a" stroke-width="1.0" />
<text x="156.44" y="407.30" font-size="8.2" fill="#222222" textLength="33.01" lengthAdjust="spacingAndGlyphs" stroke="#222222" stroke-width="0.07">IG target</text>
<text x="108.76" y="420.90" font-size="10.0" fill="#222222" textLength="36.08" lengthAdjust="spacingAndGlyphs" stroke="#1e1e1e" stroke-width="0.3">Gene target</text>
<text x="35.30" y="354.37" font-size="9.8" fill="#222222" textLength="67.43" lengthAdjust="spacingAndGlyphs" transform="rotate(-90 35.30 354.37)" stroke="#1e1e1e" stroke-width="0.3">Fragment enrichment</text>
<text x="63.35" y="254.80" font-size="8.2" fill="#222222" textLength="55.37" lengthAdjust="spacingAndGlyphs" stroke="#222222" stroke-width="0.07">Kruskal&#8211;Wallis,</text>
<text x="122.24" y="254.80" font-size="8.2" font-style="italic" fill="#222222" textLength="5.82" lengthAdjust="spacingAndGlyphs" stroke="#222222" stroke-width="0.07">P</text>
<text x="128.38" y="254.80" font-size="8.2" fill="#222222" textLength="7.22" lengthAdjust="spacingAndGlyphs" stroke="#222222" stroke-width="0.07">=</text>
<text x="136.87" y="254.80" font-size="8.2" fill="#222222" textLength="30.99" lengthAdjust="spacingAndGlyphs" stroke="#222222" stroke-width="0.07">7.7e&#8722;06</text>
<line x1="52.8" y1="360.8" x2="199.0" y2="360.8" stroke="#686868" stroke-width="1.6" stroke-dasharray="2 3.744"/>
<circle cx="79.70" cy="364.60" r="2.4" fill="#a09ecb" stroke="#151340" stroke-width="0.95"/>
<circle cx="83.10" cy="365.70" r="2.4" fill="#a09ecb" stroke="#151340" stroke-width="0.95"/>
<circle cx="77.50" cy="368.50" r="2.4" fill="#a09ecb" stroke="#151340" stroke-width="0.95"/>
<circle cx="83.10" cy="370.20" r="2.4" fill="#a09ecb" stroke="#151340" stroke-width="0.95"/>
<circle cx="78.60" cy="372.50" r="2.4" fill="#a09ecb" stroke="#151340" stroke-width="0.95"/>
<circle cx="70.70" cy="374.70" r="2.4" fill="#a09ecb" stroke="#151340" stroke-width="0.95"/>
<circle cx="81.40" cy="375.30" r="2.4" fill="#a09ecb" stroke="#151340" stroke-width="0.95"/>
<circle cx="85.30" cy="376.20" r="2.4" fill="#a09ecb" stroke="#151340" stroke-width="0.95"/>
<circle cx="91.00" cy="375.80" r="2.4" fill="#a09ecb" stroke="#151340" stroke-width="0.95"/>
<circle cx="71.30" cy="377.50" r="2.4" fill="#a09ecb" stroke="#151340" stroke-width="0.95"/>
<circle cx="75.80" cy="378.60" r="2.4" fill="#a09ecb" stroke="#151340" stroke-width="0.95"/>
<circle cx="82.00" cy="379.20" r="2.4" fill="#a09ecb" stroke="#151340" stroke-width="0.95"/>
<circle cx="88.70" cy="378.10" r="2.4" fill="#a09ecb" stroke="#151340" stroke-width="0.95"/>
<circle cx="68.40" cy="379.80" r="2.4" fill="#a09ecb" stroke="#151340" stroke-width="0.95"/>
<circle cx="73.00" cy="382.60" r="2.4" fill="#a09ecb" stroke="#151340" stroke-width="0.95"/>
<circle cx="79.10" cy="381.50" r="2.4" fill="#a09ecb" stroke="#151340" stroke-width="0.95"/>
<circle cx="85.30" cy="383.20" r="2.4" fill="#a09ecb" stroke="#151340" stroke-width="0.95"/>
<circle cx="90.40" cy="380.90" r="2.4" fill="#a09ecb" stroke="#151340" stroke-width="0.95"/>
<circle cx="76.90" cy="384.80" r="2.4" fill="#a09ecb" stroke="#151340" stroke-width="0.95"/>
<circle cx="80.80" cy="387.10" r="2.4" fill="#a09ecb" stroke="#151340" stroke-width="0.95"/>
<circle cx="83.60" cy="384.30" r="2.4" fill="#a09ecb" stroke="#151340" stroke-width="0.95"/>
<circle cx="128.30" cy="283.80" r="2.4" fill="#c30f33" stroke="#2e0008" stroke-width="0.95"/>
<circle cx="119.60" cy="330.10" r="2.4" fill="#c30f33" stroke="#2e0008" stroke-width="0.95"/>
<circle cx="125.00" cy="329.70" r="2.4" fill="#c30f33" stroke="#2e0008" stroke-width="0.95"/>
<circle cx="130.00" cy="330.10" r="2.4" fill="#c30f33" stroke="#2e0008" stroke-width="0.95"/>
<circle cx="133.20" cy="332.30" r="2.4" fill="#c30f33" stroke="#2e0008" stroke-width="0.95"/>
<circle cx="121.70" cy="334.60" r="2.4" fill="#c30f33" stroke="#2e0008" stroke-width="0.95"/>
<circle cx="127.70" cy="338.50" r="2.4" fill="#c30f33" stroke="#2e0008" stroke-width="0.95"/>
<circle cx="117.40" cy="342.50" r="2.4" fill="#c30f33" stroke="#2e0008" stroke-width="0.95"/>
<circle cx="135.60" cy="343.00" r="2.4" fill="#c30f33" stroke="#2e0008" stroke-width="0.95"/>
<circle cx="125.50" cy="344.70" r="2.4" fill="#c30f33" stroke="#2e0008" stroke-width="0.95"/>
<circle cx="129.80" cy="347.50" r="2.4" fill="#c30f33" stroke="#2e0008" stroke-width="0.95"/>
<circle cx="123.60" cy="359.30" r="2.4" fill="#c30f33" stroke="#2e0008" stroke-width="0.95"/>
<circle cx="173.60" cy="254.20" r="2.4" fill="#c30f33" stroke="#2e0008" stroke-width="0.95"/>
<circle cx="172.30" cy="258.70" r="2.4" fill="#c30f33" stroke="#2e0008" stroke-width="0.95"/>
<circle cx="174.20" cy="290.60" r="2.4" fill="#c30f33" stroke="#2e0008" stroke-width="0.95"/>
<circle cx="173.10" cy="296.00" r="2.4" fill="#c30f33" stroke="#2e0008" stroke-width="0.95"/>
<circle cx="173.90" cy="304.70" r="2.4" fill="#c30f33" stroke="#2e0008" stroke-width="0.95"/>
<circle cx="171.60" cy="312.60" r="2.4" fill="#c30f33" stroke="#2e0008" stroke-width="0.95"/>
<circle cx="176.50" cy="316.30" r="2.4" fill="#c30f33" stroke="#2e0008" stroke-width="0.95"/>
<circle cx="169.40" cy="318.80" r="2.4" fill="#c30f33" stroke="#2e0008" stroke-width="0.95"/>
<circle cx="172.50" cy="318.80" r="2.4" fill="#c30f33" stroke="#2e0008" stroke-width="0.95"/>
<circle cx="177.60" cy="320.10" r="2.4" fill="#c30f33" stroke="#2e0008" stroke-width="0.95"/>
<circle cx="170.30" cy="321.10" r="2.4" fill="#c30f33" stroke="#2e0008" stroke-width="0.95"/>
<circle cx="177.00" cy="321.30" r="2.4" fill="#c30f33" stroke="#2e0008" stroke-width="0.95"/>
<circle cx="169.40" cy="327.30" r="2.4" fill="#c30f33" stroke="#2e0008" stroke-width="0.95"/>
<circle cx="176.20" cy="327.30" r="2.4" fill="#c30f33" stroke="#2e0008" stroke-width="0.95"/>
<circle cx="172.60" cy="329.50" r="2.4" fill="#c30f33" stroke="#2e0008" stroke-width="0.95"/>
<circle cx="169.90" cy="332.20" r="2.4" fill="#c30f33" stroke="#2e0008" stroke-width="0.95"/>
<circle cx="173.90" cy="331.80" r="2.4" fill="#c30f33" stroke="#2e0008" stroke-width="0.95"/>
<circle cx="172.60" cy="340.80" r="2.4" fill="#c30f33" stroke="#2e0008" stroke-width="0.95"/>
<circle cx="176.60" cy="340.30" r="2.4" fill="#c30f33" stroke="#2e0008" stroke-width="0.95"/>
<circle cx="169.90" cy="346.20" r="2.4" fill="#c30f33" stroke="#2e0008" stroke-width="0.95"/>
<circle cx="173.50" cy="345.30" r="2.4" fill="#c30f33" stroke="#2e0008" stroke-width="0.95"/>
<circle cx="177.50" cy="346.60" r="2.4" fill="#c30f33" stroke="#2e0008" stroke-width="0.95"/>
<circle cx="167.60" cy="351.10" r="2.4" fill="#c30f33" stroke="#2e0008" stroke-width="0.95"/>
<circle cx="171.70" cy="351.10" r="2.4" fill="#c30f33" stroke="#2e0008" stroke-width="0.95"/>
<circle cx="178.90" cy="351.60" r="2.4" fill="#c30f33" stroke="#2e0008" stroke-width="0.95"/>
<circle cx="168.10" cy="355.20" r="2.4" fill="#c30f33" stroke="#2e0008" stroke-width="0.95"/>
<circle cx="173.00" cy="353.80" r="2.4" fill="#c30f33" stroke="#2e0008" stroke-width="0.95"/>
<circle cx="177.50" cy="354.30" r="2.4" fill="#c30f33" stroke="#2e0008" stroke-width="0.95"/>
<circle cx="171.20" cy="357.00" r="2.4" fill="#c30f33" stroke="#2e0008" stroke-width="0.95"/>
<circle cx="175.30" cy="357.40" r="2.4" fill="#c30f33" stroke="#2e0008" stroke-width="0.95"/>
<circle cx="130.70" cy="361.40" r="2.4" fill="#42a8d4" stroke="#06202e" stroke-width="0.95"/>
<circle cx="123.60" cy="368.40" r="2.4" fill="#42a8d4" stroke="#06202e" stroke-width="0.95"/>
<circle cx="116.30" cy="373.30" r="2.4" fill="#42a8d4" stroke="#06202e" stroke-width="0.95"/>
<circle cx="128.40" cy="372.60" r="2.4" fill="#42a8d4" stroke="#06202e" stroke-width="0.95"/>
<circle cx="136.50" cy="374.40" r="2.4" fill="#42a8d4" stroke="#06202e" stroke-width="0.95"/>
<circle cx="123.60" cy="377.50" r="2.4" fill="#42a8d4" stroke="#06202e" stroke-width="0.95"/>
<circle cx="117.20" cy="381.40" r="2.4" fill="#42a8d4" stroke="#06202e" stroke-width="0.95"/>
<circle cx="121.00" cy="382.30" r="2.4" fill="#42a8d4" stroke="#06202e" stroke-width="0.95"/>
<circle cx="130.70" cy="379.40" r="2.4" fill="#42a8d4" stroke="#06202e" stroke-width="0.95"/>
<circle cx="133.70" cy="381.70" r="2.4" fill="#42a8d4" stroke="#06202e" stroke-width="0.95"/>
<circle cx="127.00" cy="385.90" r="2.4" fill="#42a8d4" stroke="#06202e" stroke-width="0.95"/>
<circle cx="165.00" cy="362.80" r="2.4" fill="#42a8d4" stroke="#06202e" stroke-width="0.95"/>
<circle cx="172.60" cy="362.80" r="2.4" fill="#42a8d4" stroke="#06202e" stroke-width="0.95"/>
<circle cx="181.40" cy="362.80" r="2.4" fill="#42a8d4" stroke="#06202e" stroke-width="0.95"/>
<circle cx="177.40" cy="364.60" r="2.4" fill="#42a8d4" stroke="#06202e" stroke-width="0.95"/>
<circle cx="168.50" cy="364.80" r="2.4" fill="#42a8d4" stroke="#06202e" stroke-width="0.95"/>
<circle cx="167.20" cy="366.80" r="2.4" fill="#42a8d4" stroke="#06202e" stroke-width="0.95"/>
<circle cx="175.60" cy="368.00" r="2.4" fill="#42a8d4" stroke="#06202e" stroke-width="0.95"/>
<circle cx="180.70" cy="367.20" r="2.4" fill="#42a8d4" stroke="#06202e" stroke-width="0.95"/>
<circle cx="162.80" cy="369.30" r="2.4" fill="#42a8d4" stroke="#06202e" stroke-width="0.95"/>
<circle cx="170.80" cy="370.60" r="2.4" fill="#42a8d4" stroke="#06202e" stroke-width="0.95"/>
<circle cx="175.20" cy="369.00" r="2.4" fill="#42a8d4" stroke="#06202e" stroke-width="0.95"/>
<circle cx="183.60" cy="370.90" r="2.4" fill="#42a8d4" stroke="#06202e" stroke-width="0.95"/>
<circle cx="187.00" cy="371.20" r="2.4" fill="#42a8d4" stroke="#06202e" stroke-width="0.95"/>
<circle cx="166.80" cy="372.60" r="2.4" fill="#42a8d4" stroke="#06202e" stroke-width="0.95"/>
<circle cx="174.80" cy="373.20" r="2.4" fill="#42a8d4" stroke="#06202e" stroke-width="0.95"/>
<circle cx="179.60" cy="371.90" r="2.4" fill="#42a8d4" stroke="#06202e" stroke-width="0.95"/>
<circle cx="184.70" cy="373.40" r="2.4" fill="#42a8d4" stroke="#06202e" stroke-width="0.95"/>
<circle cx="160.20" cy="374.80" r="2.4" fill="#42a8d4" stroke="#06202e" stroke-width="0.95"/>
<circle cx="171.20" cy="375.00" r="2.4" fill="#42a8d4" stroke="#06202e" stroke-width="0.95"/>
<circle cx="181.40" cy="376.30" r="2.4" fill="#42a8d4" stroke="#06202e" stroke-width="0.95"/>
<circle cx="186.20" cy="374.80" r="2.4" fill="#42a8d4" stroke="#06202e" stroke-width="0.95"/>
<circle cx="163.60" cy="376.60" r="2.4" fill="#42a8d4" stroke="#06202e" stroke-width="0.95"/>
<circle cx="185.30" cy="377.60" r="2.4" fill="#42a8d4" stroke="#06202e" stroke-width="0.95"/>
<circle cx="165.00" cy="378.50" r="2.4" fill="#42a8d4" stroke="#06202e" stroke-width="0.95"/>
<circle cx="169.70" cy="378.00" r="2.4" fill="#42a8d4" stroke="#06202e" stroke-width="0.95"/>
<circle cx="174.80" cy="377.50" r="2.4" fill="#42a8d4" stroke="#06202e" stroke-width="0.95"/>
<circle cx="178.90" cy="379.90" r="2.4" fill="#42a8d4" stroke="#06202e" stroke-width="0.95"/>
<circle cx="182.90" cy="378.60" r="2.4" fill="#42a8d4" stroke="#06202e" stroke-width="0.95"/>
<circle cx="170.10" cy="383.20" r="2.4" fill="#42a8d4" stroke="#06202e" stroke-width="0.95"/>
<circle cx="173.40" cy="386.10" r="2.4" fill="#42a8d4" stroke="#06202e" stroke-width="0.95"/>
<circle cx="47.10" cy="431.70" r="1.7" fill="#6a1428" stroke="#1e0008" stroke-width="0.8"/>
<text x="51.78" y="434.20" font-size="8.2" fill="#222222" textLength="66.44" lengthAdjust="spacingAndGlyphs" stroke="#222222" stroke-width="0.07">Recovered reporter</text>
<circle cx="126.80" cy="431.80" r="1.7" fill="#5a96a8" stroke="#0a2430" stroke-width="0.8"/>
<text x="131.75" y="434.20" font-size="8.2" fill="#222222" textLength="51.25" lengthAdjust="spacingAndGlyphs" stroke="#222222" stroke-width="0.07">Other mutation</text>
<circle cx="191.40" cy="431.80" r="1.8" fill="#9a9a9a" stroke="#1a1a1a" stroke-width="0.85"/>
<text x="196.29" y="434.20" font-size="8.2" fill="#222222" textLength="11.91" lengthAdjust="spacingAndGlyphs" stroke="#222222" stroke-width="0.07">CH</text>
<line x1="275.20" y1="264.30" x2="275.20" y2="393.90" stroke="#1a1a1a" stroke-width="1.15" />
<line x1="274.65" y1="393.35" x2="390.50" y2="393.35" stroke="#141414" stroke-width="1.3" />
<line x1="272.20" y1="290.50" x2="275.20" y2="290.50" stroke="#1a1a1a" stroke-width="1.0" />
<line x1="272.20" y1="327.00" x2="275.20" y2="327.00" stroke="#1a1a1a" stroke-width="1.0" />
<line x1="272.20" y1="363.50" x2="275.20" y2="363.50" stroke="#1a1a1a" stroke-width="1.0" />
<line x1="273.60" y1="389.01" x2="275.20" y2="389.01" stroke="#1a1a1a" stroke-width="0.7" />
<line x1="273.60" y1="382.59" x2="275.20" y2="382.59" stroke="#1a1a1a" stroke-width="0.7" />
<line x1="273.60" y1="378.02" x2="275.20" y2="378.02" stroke="#1a1a1a" stroke-width="0.7" />
<line x1="273.60" y1="374.49" x2="275.20" y2="374.49" stroke="#1a1a1a" stroke-width="0.7" />
<line x1="273.60" y1="371.60" x2="275.20" y2="371.60" stroke="#1a1a1a" stroke-width="0.7" />
<line x1="273.60" y1="369.15" x2="275.20" y2="369.15" stroke="#1a1a1a" stroke-width="0.7" />
<line x1="273.60" y1="367.04" x2="275.20" y2="367.04" stroke="#1a1a1a" stroke-width="0.7" />
<line x1="273.60" y1="365.17" x2="275.20" y2="365.17" stroke="#1a1a1a" stroke-width="0.7" />
<line x1="273.60" y1="352.51" x2="275.20" y2="352.51" stroke="#1a1a1a" stroke-width="0.7" />
<line x1="273.60" y1="346.09" x2="275.20" y2="346.09" stroke="#1a1a1a" stroke-width="0.7" />
<line x1="273.60" y1="341.52" x2="275.20" y2="341.52" stroke="#1a1a1a" stroke-width="0.7" />
<line x1="273.60" y1="337.99" x2="275.20" y2="337.99" stroke="#1a1a1a" stroke-width="0.7" />
<line x1="273.60" y1="335.10" x2="275.20" y2="335.10" stroke="#1a1a1a" stroke-width="0.7" />
<line x1="273.60" y1="332.65" x2="275.20" y2="332.65" stroke="#1a1a1a" stroke-width="0.7" />
<line x1="273.60" y1="330.54" x2="275.20" y2="330.54" stroke="#1a1a1a" stroke-width="0.7" />
<line x1="273.60" y1="328.67" x2="275.20" y2="328.67" stroke="#1a1a1a" stroke-width="0.7" />
<line x1="273.60" y1="316.01" x2="275.20" y2="316.01" stroke="#1a1a1a" stroke-width="0.7" />
<line x1="273.60" y1="309.59" x2="275.20" y2="309.59" stroke="#1a1a1a" stroke-width="0.7" />
<line x1="273.60" y1="305.02" x2="275.20" y2="305.02" stroke="#1a1a1a" stroke-width="0.7" />
<line x1="273.60" y1="301.49" x2="275.20" y2="301.49" stroke="#1a1a1a" stroke-width="0.7" />
<line x1="273.60" y1="298.60" x2="275.20" y2="298.60" stroke="#1a1a1a" stroke-width="0.7" />
<line x1="273.60" y1="296.15" x2="275.20" y2="296.15" stroke="#1a1a1a" stroke-width="0.7" />
<line x1="273.60" y1="294.04" x2="275.20" y2="294.04" stroke="#1a1a1a" stroke-width="0.7" />
<line x1="273.60" y1="292.17" x2="275.20" y2="292.17" stroke="#1a1a1a" stroke-width="0.7" />
<line x1="273.60" y1="279.51" x2="275.20" y2="279.51" stroke="#1a1a1a" stroke-width="0.7" />
<line x1="273.60" y1="273.09" x2="275.20" y2="273.09" stroke="#1a1a1a" stroke-width="0.7" />
<line x1="273.60" y1="268.52" x2="275.20" y2="268.52" stroke="#1a1a1a" stroke-width="0.7" />
<line x1="273.60" y1="264.99" x2="275.20" y2="264.99" stroke="#1a1a1a" stroke-width="0.7" />
<line x1="273.60" y1="264.80" x2="275.20" y2="264.80" stroke="#1a1a1a" stroke-width="0.7" />
<line x1="397.40" y1="264.30" x2="397.40" y2="393.90" stroke="#1a1a1a" stroke-width="1.15" />
<line x1="396.85" y1="393.35" x2="512.00" y2="393.35" stroke="#141414" stroke-width="1.3" />
<line x1="394.40" y1="290.50" x2="397.40" y2="290.50" stroke="#1a1a1a" stroke-width="1.0" />
<line x1="394.40" y1="327.00" x2="397.40" y2="327.00" stroke="#1a1a1a" stroke-width="1.0" />
<line x1="394.40" y1="363.50" x2="397.40" y2="363.50" stroke="#1a1a1a" stroke-width="1.0" />
<line x1="395.80" y1="389.01" x2="397.40" y2="389.01" stroke="#1a1a1a" stroke-width="0.7" />
<line x1="395.80" y1="382.59" x2="397.40" y2="382.59" stroke="#1a1a1a" stroke-width="0.7" />
<line x1="395.80" y1="378.02" x2="397.40" y2="378.02" stroke="#1a1a1a" stroke-width="0.7" />
<line x1="395.80" y1="374.49" x2="397.40" y2="374.49" stroke="#1a1a1a" stroke-width="0.7" />
<line x1="395.80" y1="371.60" x2="397.40" y2="371.60" stroke="#1a1a1a" stroke-width="0.7" />
<line x1="395.80" y1="369.15" x2="397.40" y2="369.15" stroke="#1a1a1a" stroke-width="0.7" />
<line x1="395.80" y1="367.04" x2="397.40" y2="367.04" stroke="#1a1a1a" stroke-width="0.7" />
<line x1="395.80" y1="365.17" x2="397.40" y2="365.17" stroke="#1a1a1a" stroke-width="0.7" />
<line x1="395.80" y1="352.51" x2="397.40" y2="352.51" stroke="#1a1a1a" stroke-width="0.7" />
<line x1="395.80" y1="346.09" x2="397.40" y2="346.09" stroke="#1a1a1a" stroke-width="0.7" />
<line x1="395.80" y1="341.52" x2="397.40" y2="341.52" stroke="#1a1a1a" stroke-width="0.7" />
<line x1="395.80" y1="337.99" x2="397.40" y2="337.99" stroke="#1a1a1a" stroke-width="0.7" />
<line x1="395.80" y1="335.10" x2="397.40" y2="335.10" stroke="#1a1a1a" stroke-width="0.7" />
<line x1="395.80" y1="332.65" x2="397.40" y2="332.65" stroke="#1a1a1a" stroke-width="0.7" />
<line x1="395.80" y1="330.54" x2="397.40" y2="330.54" stroke="#1a1a1a" stroke-width="0.7" />
<line x1="395.80" y1="328.67" x2="397.40" y2="328.67" stroke="#1a1a1a" stroke-width="0.7" />
<line x1="395.80" y1="316.01" x2="397.40" y2="316.01" stroke="#1a1a1a" stroke-width="0.7" />
<line x1="395.80" y1="309.59" x2="397.40" y2="309.59" stroke="#1a1a1a" stroke-width="0.7" />
<line x1="395.80" y1="305.02" x2="397.40" y2="305.02" stroke="#1a1a1a" stroke-width="0.7" />
<line x1="395.80" y1="301.49" x2="397.40" y2="301.49" stroke="#1a1a1a" stroke-width="0.7" />
<line x1="395.80" y1="298.60" x2="397.40" y2="298.60" stroke="#1a1a1a" stroke-width="0.7" />
<line x1="395.80" y1="296.15" x2="397.40" y2="296.15" stroke="#1a1a1a" stroke-width="0.7" />
<line x1="395.80" y1="294.04" x2="397.40" y2="294.04" stroke="#1a1a1a" stroke-width="0.7" />
<line x1="395.80" y1="292.17" x2="397.40" y2="292.17" stroke="#1a1a1a" stroke-width="0.7" />
<line x1="395.80" y1="279.51" x2="397.40" y2="279.51" stroke="#1a1a1a" stroke-width="0.7" />
<line x1="395.80" y1="273.09" x2="397.40" y2="273.09" stroke="#1a1a1a" stroke-width="0.7" />
<line x1="395.80" y1="268.52" x2="397.40" y2="268.52" stroke="#1a1a1a" stroke-width="0.7" />
<line x1="395.80" y1="264.99" x2="397.40" y2="264.99" stroke="#1a1a1a" stroke-width="0.7" />
<line x1="395.80" y1="264.80" x2="397.40" y2="264.80" stroke="#1a1a1a" stroke-width="0.7" />
<text x="252.05" y="293.25" font-size="8.2" fill="#222222" textLength="16.36" lengthAdjust="spacingAndGlyphs" stroke="#222222" stroke-width="0.07">10.0</text>
<text x="256.71" y="329.75" font-size="8.2" fill="#222222" textLength="11.68" lengthAdjust="spacingAndGlyphs" stroke="#222222" stroke-width="0.07">1.0</text>
<text x="256.80" y="366.25" font-size="8.2" fill="#222222" textLength="11.68" lengthAdjust="spacingAndGlyphs" stroke="#222222" stroke-width="0.07">0.1</text>
<text x="245.70" y="365.54" font-size="9.8" fill="#222222" textLength="73.15" lengthAdjust="spacingAndGlyphs" transform="rotate(-90 245.70 365.54)" stroke="#1e1e1e" stroke-width="0.3">Variant allele frequency</text>
<line x1="307.10" y1="393.00" x2="307.10" y2="396.20" stroke="#1a1a1a" stroke-width="1.0" />
<text x="283.05" y="407.30" font-size="8.2" fill="#222222" textLength="46.89" lengthAdjust="spacingAndGlyphs" stroke="#222222" stroke-width="0.07">Pretreatment</text>
<line x1="359.30" y1="393.00" x2="359.30" y2="396.20" stroke="#1a1a1a" stroke-width="1.0" />
<text x="349.66" y="407.30" font-size="8.2" fill="#222222" textLength="19.41" lengthAdjust="spacingAndGlyphs" stroke="#222222" stroke-width="0.07">6 Mo</text>
<line x1="429.00" y1="393.00" x2="429.00" y2="396.20" stroke="#1a1a1a" stroke-width="1.0" />
<text x="404.94" y="407.30" font-size="8.2" fill="#222222" textLength="47.81" lengthAdjust="spacingAndGlyphs" stroke="#222222" stroke-width="0.07">Pretreatment</text>
<line x1="481.40" y1="393.00" x2="481.40" y2="396.20" stroke="#1a1a1a" stroke-width="1.0" />
<text x="471.26" y="407.30" font-size="8.2" fill="#222222" textLength="19.73" lengthAdjust="spacingAndGlyphs" stroke="#222222" stroke-width="0.07">6 Mo</text>
<text x="311.95" y="258.40" font-size="8.2" fill="#222222" textLength="40.64" lengthAdjust="spacingAndGlyphs" stroke="#222222" stroke-width="0.07">Example#1</text>
<text x="434.33" y="258.70" font-size="8.2" fill="#222222" textLength="41.61" lengthAdjust="spacingAndGlyphs" stroke="#222222" stroke-width="0.07">Example#2</text>
<text x="382.59" y="420.70" font-size="10.0" fill="#222222" textLength="23.22" lengthAdjust="spacingAndGlyphs" stroke="#1e1e1e" stroke-width="0.3">Sample</text>
<rect x="310.5" y="268.5" width="29.2" height="12.9" rx="2.2" fill="#fff" stroke="#444" stroke-width="0.95"/>
<text x="314.03" y="278.20" font-size="8.2" fill="#222222" textLength="20.41" lengthAdjust="spacingAndGlyphs" stroke="#222222" stroke-width="0.07">TP53</text>
<text x="352.54" y="321.70" font-size="8.8" fill="#222222" textLength="19.77" lengthAdjust="spacingAndGlyphs" stroke="#222222" stroke-width="0.07">TET2</text>
<text x="470.31" y="285.20" font-size="8.2" fill="#222222" textLength="29.58" lengthAdjust="spacingAndGlyphs" stroke="#222222" stroke-width="0.07">PPM1D</text>
<line x1="307.20" y1="282.40" x2="359.30" y2="351.00" stroke="#cc4466" stroke-width="0.8" />
<line x1="307.20" y1="282.40" x2="359.30" y2="373.50" stroke="#4e6c88" stroke-width="0.8" />
<line x1="307.20" y1="285.80" x2="359.30" y2="355.00" stroke="#cc4466" stroke-width="0.8" />
<line x1="307.20" y1="288.70" x2="359.30" y2="358.30" stroke="#cc4466" stroke-width="0.8" />
<line x1="307.20" y1="291.90" x2="359.30" y2="362.00" stroke="#cc4466" stroke-width="0.8" />
<line x1="307.20" y1="304.10" x2="359.30" y2="393.00" stroke="#4e6c88" stroke-width="0.8" />
<line x1="307.20" y1="304.10" x2="359.30" y2="354.30" stroke="#cc4466" stroke-width="0.8" />
<line x1="307.20" y1="320.10" x2="359.30" y2="393.00" stroke="#cc4466" stroke-width="0.8" />
<line x1="307.20" y1="284.00" x2="359.30" y2="360.00" stroke="#cc4466" stroke-width="0.8" />
<line x1="307.20" y1="326.90" x2="359.30" y2="324.20" stroke="#a8a8d4" stroke-width="0.7" />
<circle cx="307.20" cy="304.10" r="2.0" fill="#8a1030" stroke="#3a0010" stroke-width="0.4"/>
<circle cx="307.20" cy="282.40" r="2.0" fill="#6a1030" stroke="#3a0010" stroke-width="0.4"/>
<circle cx="307.20" cy="285.80" r="2.0" fill="#b890c0" stroke="#b890c0" stroke-width="0.4"/>
<circle cx="307.20" cy="288.70" r="2.0" fill="#b8123a" stroke="#3a0010" stroke-width="0.4"/>
<circle cx="307.20" cy="291.90" r="2.0" fill="#b8123a" stroke="#3a0010" stroke-width="0.4"/>
<circle cx="307.20" cy="320.10" r="2.0" fill="#b8123a" stroke="#3a0010" stroke-width="0.4"/>
<circle cx="307.20" cy="326.90" r="2.0" fill="#8b8bc4" stroke="#8b8bc4" stroke-width="0.4"/>
<circle cx="359.30" cy="350.80" r="2.0" fill="#b8123a" stroke="#4a0018" stroke-width="0.45"/>
<circle cx="359.30" cy="354.60" r="2.0" fill="#b8123a" stroke="#4a0018" stroke-width="0.45"/>
<circle cx="359.30" cy="358.80" r="2.0" fill="#b8123a" stroke="#4a0018" stroke-width="0.45"/>
<circle cx="359.30" cy="362.20" r="2.0" fill="#c8405e" stroke="#4a0018" stroke-width="0.45"/>
<circle cx="359.30" cy="373.40" r="2.0" fill="#0e2440" stroke="#0e2440" stroke-width="0.3"/>
<circle cx="359.30" cy="393.00" r="1.8" fill="#444" stroke="#444" stroke-width="0"/>
<circle cx="359.30" cy="324.00" r="1.9" fill="#8b8bc4" stroke="#8b8bc4" stroke-width="0"/>
<line x1="429.00" y1="296.00" x2="481.40" y2="272.60" stroke="#a8a8d4" stroke-width="0.7" />
<line x1="429.00" y1="302.70" x2="481.40" y2="393.00" stroke="#4a1a44" stroke-width="0.8" />
<line x1="429.00" y1="300.80" x2="481.40" y2="392.60" stroke="#4a1a44" stroke-width="0.8" />
<line x1="429.00" y1="279.40" x2="481.40" y2="391.50" stroke="#1b3a72" stroke-width="0.8" />
<line x1="429.00" y1="281.00" x2="481.40" y2="392.80" stroke="#1b3a72" stroke-width="0.8" />
<line x1="429.00" y1="281.70" x2="481.40" y2="390.80" stroke="#1b3a72" stroke-width="0.8" />
<line x1="429.00" y1="283.00" x2="481.40" y2="392.00" stroke="#1b3a72" stroke-width="0.8" />
<line x1="429.00" y1="284.50" x2="481.40" y2="391.20" stroke="#1b3a72" stroke-width="0.8" />
<line x1="429.00" y1="285.80" x2="481.40" y2="392.50" stroke="#1b3a72" stroke-width="0.8" />
<line x1="429.00" y1="287.00" x2="481.40" y2="391.00" stroke="#1b3a72" stroke-width="0.8" />
<line x1="429.00" y1="289.20" x2="481.40" y2="392.20" stroke="#1b3a72" stroke-width="0.8" />
<line x1="429.00" y1="291.50" x2="481.40" y2="391.80" stroke="#1b3a72" stroke-width="0.8" />
<line x1="429.00" y1="295.20" x2="481.40" y2="392.40" stroke="#1b3a72" stroke-width="0.8" />
<line x1="429.00" y1="273.10" x2="481.40" y2="390.50" stroke="#a4c0e0" stroke-width="0.75" />
<line x1="429.00" y1="274.00" x2="481.40" y2="391.50" stroke="#a4c0e0" stroke-width="0.75" />
<line x1="429.00" y1="276.00" x2="481.40" y2="390.00" stroke="#a4c0e0" stroke-width="0.75" />
<line x1="429.00" y1="273.10" x2="481.40" y2="379.90" stroke="#3a5a8a" stroke-width="0.7" />
<line x1="429.00" y1="274.00" x2="481.40" y2="383.90" stroke="#3a5a8a" stroke-width="0.7" />
<line x1="429.00" y1="276.50" x2="481.40" y2="382.20" stroke="#3a5a8a" stroke-width="0.7" />
<line x1="429.00" y1="279.00" x2="481.40" y2="385.50" stroke="#3a5a8a" stroke-width="0.7" />
<line x1="429.00" y1="282.50" x2="481.40" y2="387.00" stroke="#3a5a8a" stroke-width="0.7" />
<line x1="429.00" y1="273.60" x2="481.40" y2="377.60" stroke="#3a5a8a" stroke-width="0.7" />
<line x1="429.00" y1="274.00" x2="481.40" y2="368.60" stroke="#d89ab0" stroke-width="0.7" />
<circle cx="428.70" cy="273.10" r="2.2" fill="#1c4a88" stroke="#1c4a88" stroke-width="0.2"/>
<circle cx="428.70" cy="274.00" r="2.2" fill="#1c4a88" stroke="#1c4a88" stroke-width="0.2"/>
<circle cx="428.70" cy="279.40" r="2.2" fill="#1c4a88" stroke="#1c4a88" stroke-width="0.2"/>
<circle cx="428.70" cy="281.70" r="2.2" fill="#1c4a88" stroke="#1c4a88" stroke-width="0.2"/>
<circle cx="428.70" cy="283.00" r="2.2" fill="#1c4a88" stroke="#1c4a88" stroke-width="0.2"/>
<circle cx="428.70" cy="285.80" r="2.2" fill="#1c4a88" stroke="#1c4a88" stroke-width="0.2"/>
<circle cx="428.70" cy="289.20" r="2.2" fill="#b8123a" stroke="#b8123a" stroke-width="0.2"/>
<circle cx="428.70" cy="291.50" r="2.2" fill="#b8123a" stroke="#b8123a" stroke-width="0.2"/>
<circle cx="428.70" cy="295.20" r="2.2" fill="#1d5060" stroke="#1d5060" stroke-width="0.2"/>
<circle cx="428.70" cy="297.70" r="2.2" fill="#b0a8d0" stroke="#b0a8d0" stroke-width="0.2"/>
<circle cx="428.70" cy="300.80" r="2.2" fill="#b8123a" stroke="#b8123a" stroke-width="0.2"/>
<circle cx="428.70" cy="302.70" r="2.2" fill="#b8123a" stroke="#b8123a" stroke-width="0.2"/>
<circle cx="481.40" cy="368.60" r="2.0" fill="#b8123a" stroke="#b8123a" stroke-width="0.2"/>
<circle cx="481.40" cy="377.60" r="2.0" fill="#1c4a88" stroke="#1c4a88" stroke-width="0.2"/>
<circle cx="481.40" cy="379.90" r="2.0" fill="#1c4a88" stroke="#1c4a88" stroke-width="0.2"/>
<circle cx="481.40" cy="382.20" r="2.0" fill="#1c4a88" stroke="#1c4a88" stroke-width="0.2"/>
<circle cx="481.40" cy="383.90" r="2.0" fill="#1c4a88" stroke="#1c4a88" stroke-width="0.2"/>
<circle cx="481.40" cy="387.00" r="2.0" fill="#b8123a" stroke="#b8123a" stroke-width="0.2"/>
<circle cx="481.40" cy="391.00" r="2.0" fill="#1d5060" stroke="#1d5060" stroke-width="0.2"/>
<circle cx="481.40" cy="272.60" r="1.9" fill="#8b8bc4" stroke="#8b8bc4" stroke-width="0"/>
<circle cx="277.00" cy="431.80" r="2.0" fill="#6a0a24" stroke="#4a0418" stroke-width="0.4"/>
<text x="281.34" y="434.40" font-size="8.2" fill="#222222" textLength="71.19" lengthAdjust="spacingAndGlyphs" stroke="#222222" stroke-width="0.07">Recovered reporter</text>
<circle cx="360.60" cy="431.90" r="1.85" fill="#0c2236" stroke="#0c2236" stroke-width="0.3"/>
<text x="365.02" y="434.40" font-size="8.2" fill="#222222" textLength="49.84" lengthAdjust="spacingAndGlyphs" stroke="#222222" stroke-width="0.07">MCL reporter</text>
<circle cx="422.90" cy="431.90" r="2.0" fill="#8482b4" stroke="#8482b4" stroke-width="0.2"/>
<text x="427.02" y="434.40" font-size="8.2" fill="#222222" textLength="85.54" lengthAdjust="spacingAndGlyphs" stroke="#222222" stroke-width="0.07">Predicted CH mutation</text>
<rect x="0.5" y="0.5" width="519" height="443" fill="none" stroke="#3c3c3c" stroke-width="1"/>
</svg>
</body></html>
